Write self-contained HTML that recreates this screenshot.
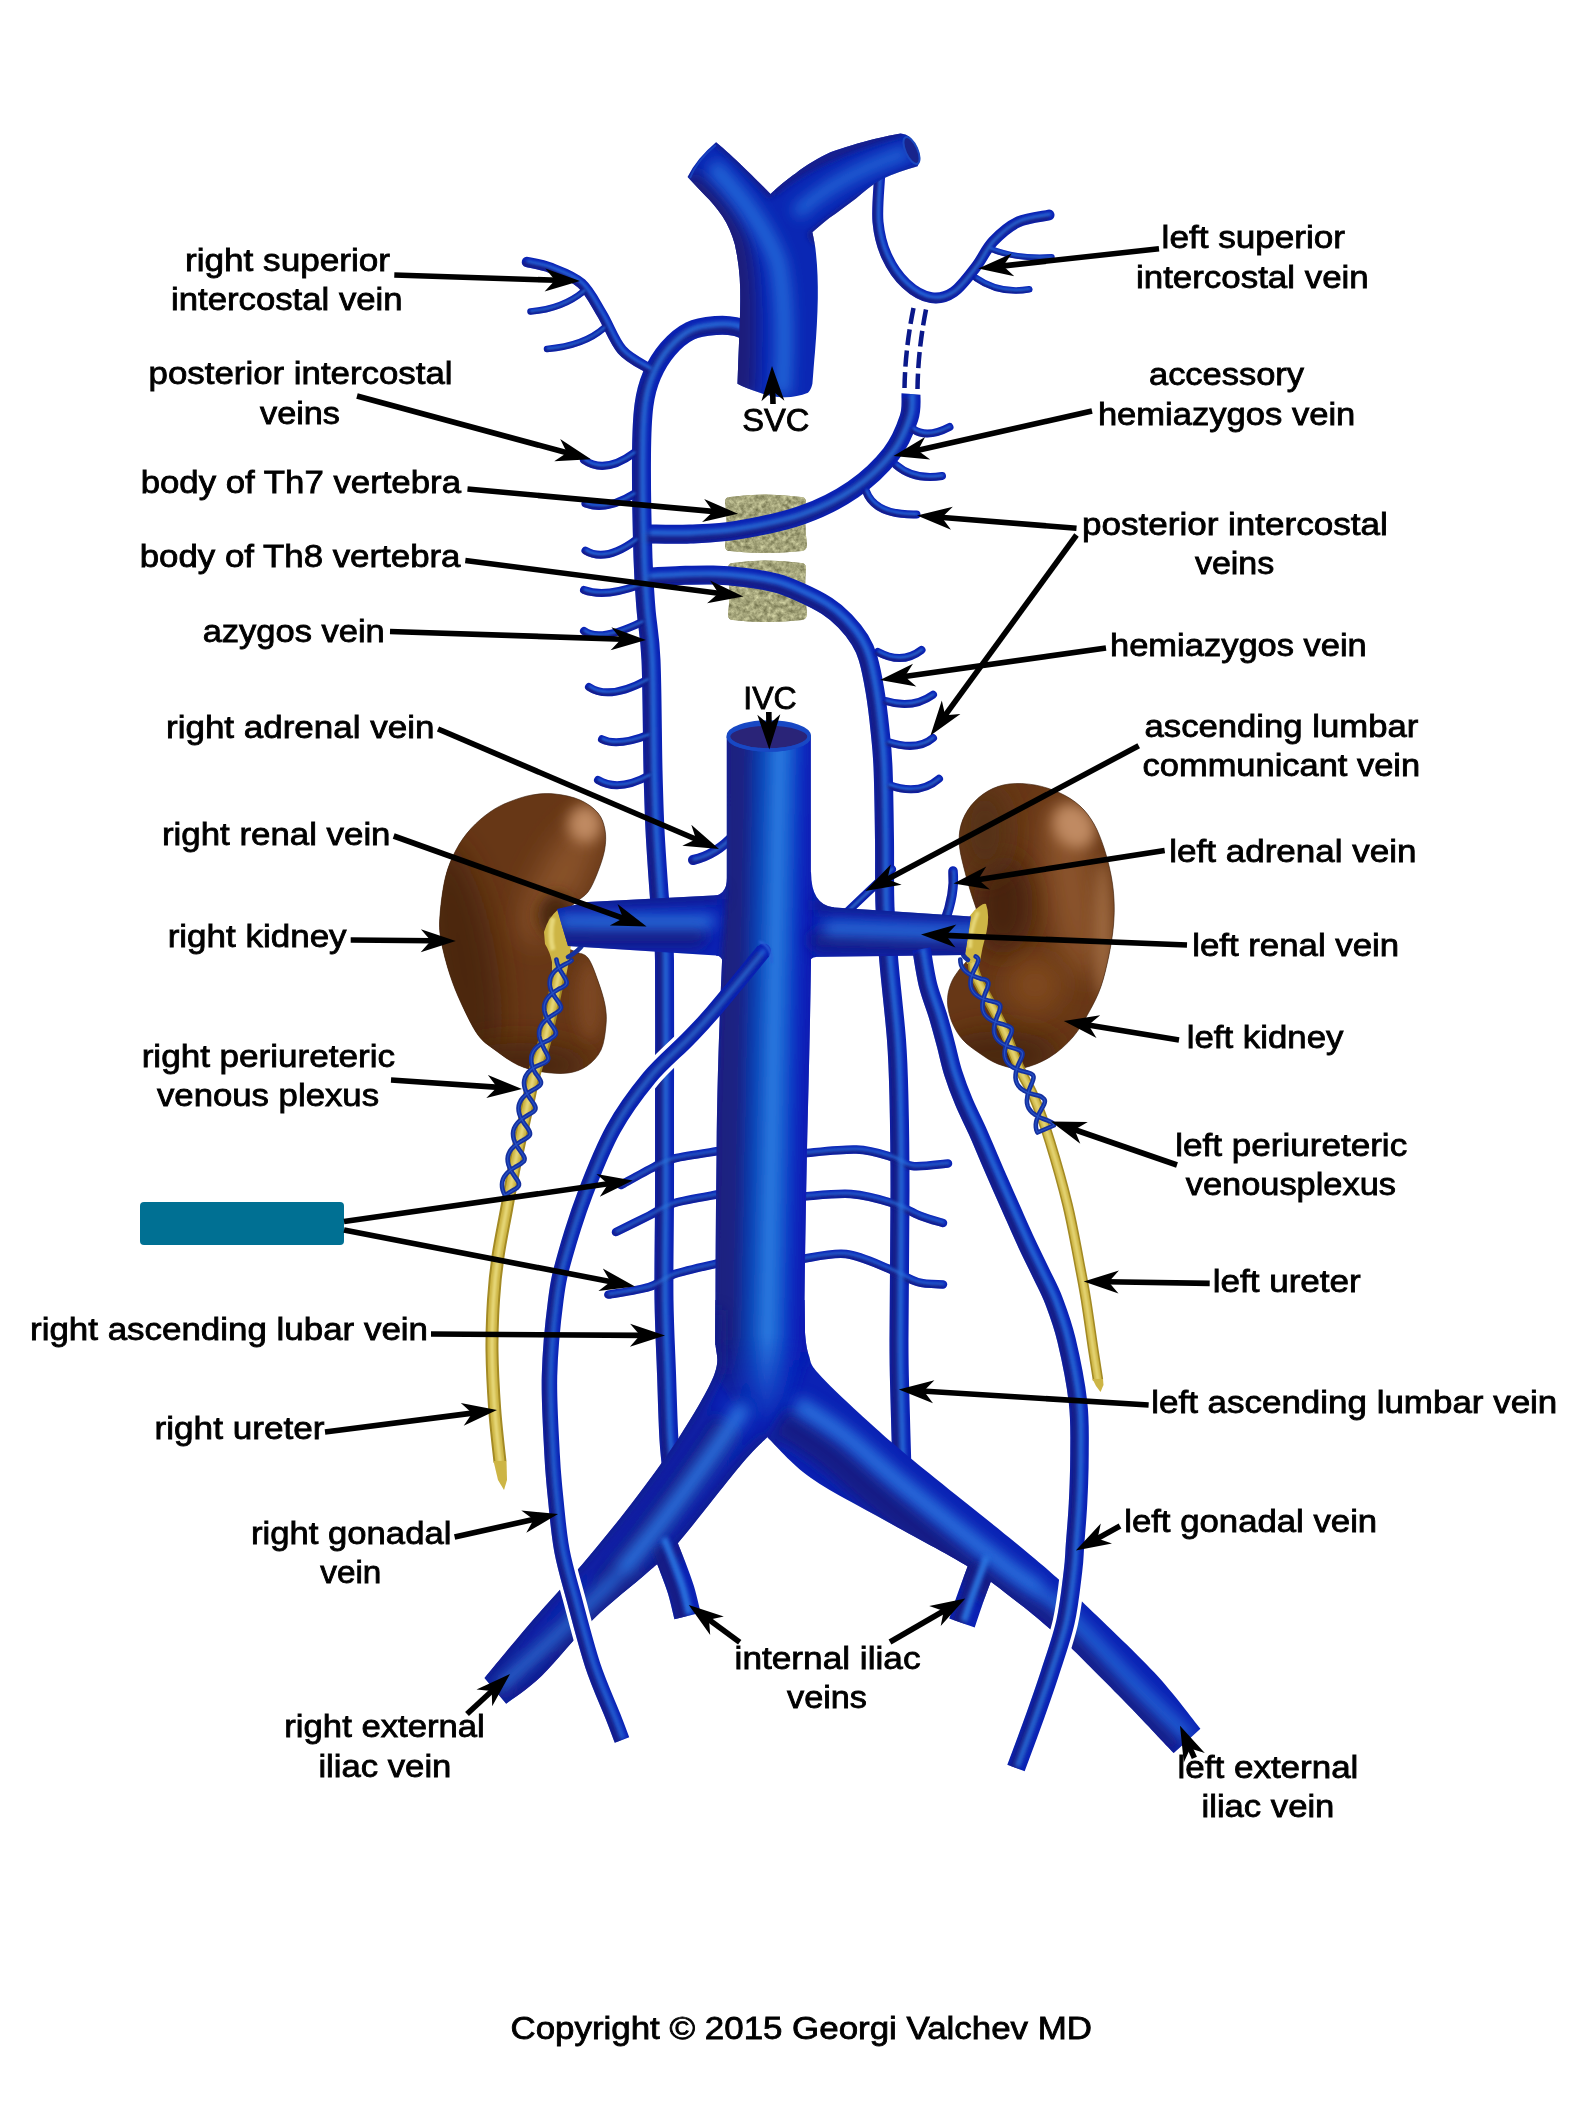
<!DOCTYPE html>
<html><head><meta charset="utf-8"><title>Azygos and caval venous system</title>
<style>html,body{margin:0;padding:0;background:#fff}svg{display:block}</style></head>
<body><svg width="1571" height="2106" viewBox="0 0 1571 2106">
<rect width="1571" height="2106" fill="#fff"/>
<defs>
<filter id="b1" filterUnits="userSpaceOnUse" x="0" y="0" width="1571" height="2106"><feGaussianBlur stdDeviation="1"/></filter>
<filter id="b15" filterUnits="userSpaceOnUse" x="0" y="0" width="1571" height="2106"><feGaussianBlur stdDeviation="1.4"/></filter>
<filter id="b2" filterUnits="userSpaceOnUse" x="0" y="0" width="1571" height="2106"><feGaussianBlur stdDeviation="2"/></filter>
<filter id="b3" filterUnits="userSpaceOnUse" x="0" y="0" width="1571" height="2106"><feGaussianBlur stdDeviation="3"/></filter>
<filter id="b6" filterUnits="userSpaceOnUse" x="0" y="0" width="1571" height="2106"><feGaussianBlur stdDeviation="7"/></filter>
<filter id="b10" filterUnits="userSpaceOnUse" x="0" y="0" width="1571" height="2106"><feGaussianBlur stdDeviation="9"/></filter>
<filter id="b12" filterUnits="userSpaceOnUse" x="0" y="0" width="1571" height="2106"><feGaussianBlur stdDeviation="14"/></filter>
<filter id="tex" filterUnits="userSpaceOnUse" x="700" y="480" width="130" height="150" color-interpolation-filters="sRGB"><feTurbulence type="fractalNoise" baseFrequency="0.22" numOctaves="3" seed="7" result="n"/><feColorMatrix in="n" type="matrix" values="0.55 0 0 0 0.37  0.55 0 0 0 0.37  0.5 0 0 0 0.23  0 0 0 0 1"/><feComposite in2="SourceGraphic" operator="in"/></filter>
 <linearGradient id="gfade" gradientUnits="userSpaceOnUse" x1="0" y1="1335" x2="0" y2="1425"><stop offset="0" stop-color="#fff"/><stop offset="1" stop-color="#000"/></linearGradient>
<mask id="mfade" maskUnits="userSpaceOnUse" x="0" y="0" width="1571" height="2106"><rect x="600" y="600" width="400" height="900" fill="url(#gfade)"/></mask>
<linearGradient id="givc" gradientUnits="userSpaceOnUse" x1="741.9" y1="0" x2="830.9" y2="0" gradientTransform="matrix(1,0,-0.0205,1,0,0)">
<stop offset="0" stop-color="#1b1f7e"/><stop offset="0.2" stop-color="#1a2284"/><stop offset="0.36" stop-color="#0c3cae"/><stop offset="0.48" stop-color="#155cca"/><stop offset="0.59" stop-color="#2c7ae0"/><stop offset="0.7" stop-color="#1a62d2"/><stop offset="0.85" stop-color="#0a2ec0"/><stop offset="1" stop-color="#0818b2"/>
</linearGradient>
</defs>
<path d="M730,497 Q765,492 801,497 Q806,497 806,502 Q804,523 807,545 Q807,550 802,551 Q765,555 730,551 Q725,551 725,546 Q728,523 725,502 Q725,497 730,497Z" fill="#a8a882"/><path d="M730,497 Q765,492 801,497 Q806,497 806,502 Q804,523 807,545 Q807,550 802,551 Q765,555 730,551 Q725,551 725,546 Q728,523 725,502 Q725,497 730,497Z" fill="#000" filter="url(#tex)"/>
<path d="M733,563 Q767,558 801,563 Q806,563 806,568 Q804,591 807,614 Q807,619 802,620 Q767,624 733,620 Q728,620 728,615 Q731,591 728,568 Q728,563 733,563Z" fill="#a8a882"/><path d="M733,563 Q767,558 801,563 Q806,563 806,568 Q804,591 807,614 Q807,619 802,620 Q767,624 733,620 Q728,620 728,615 Q731,591 728,568 Q728,563 733,563Z" fill="#000" filter="url(#tex)"/>
<clipPath id="crk"><path d="M555.0,794.0C563.0,794.8 572.8,796.8 580.0,800.0C587.2,803.2 593.8,808.0 598.0,813.0C602.2,818.0 603.9,823.8 605.0,830.0C606.1,836.2 605.9,842.7 604.6,850.0C603.3,857.3 599.8,867.0 597.0,874.0C594.2,881.0 591.5,887.3 588.0,892.0C584.5,896.7 579.7,898.7 576.0,902.0C572.3,905.3 568.5,908.2 566.0,912.0C563.5,915.8 561.8,920.7 561.0,925.0C560.2,929.3 560.2,934.3 561.0,938.0C561.8,941.7 563.5,944.7 566.0,947.0C568.5,949.3 572.3,950.2 576.0,952.0C579.7,953.8 584.3,953.2 588.0,958.0C591.7,962.8 595.2,973.2 598.0,981.0C600.8,988.8 603.7,997.7 605.0,1005.0C606.3,1012.3 606.7,1017.5 606.0,1025.0C605.3,1032.5 604.2,1043.2 601.0,1050.0C597.8,1056.8 592.5,1062.2 587.0,1066.0C581.5,1069.8 575.3,1072.0 568.0,1073.0C560.7,1074.0 551.3,1073.3 543.0,1072.0C534.7,1070.7 526.0,1068.7 518.0,1065.0C510.0,1061.3 501.7,1055.0 495.0,1050.0C488.3,1045.0 483.5,1042.5 478.0,1035.0C472.5,1027.5 466.7,1015.0 462.0,1005.0C457.3,995.0 453.5,985.8 450.0,975.0C446.5,964.2 442.7,950.0 441.0,940.0C439.3,930.0 439.2,925.5 440.0,915.0C440.8,904.5 442.8,887.8 445.5,877.0C448.2,866.2 451.8,858.1 456.0,850.0C460.2,841.9 465.3,834.9 471.0,828.6C476.7,822.3 483.7,816.4 490.0,812.0C496.3,807.6 502.0,804.8 509.0,802.0C516.0,799.2 524.3,796.3 532.0,795.0C539.7,793.7 547.0,793.2 555.0,794.0Z"/></clipPath><clipPath id="clk"><path d="M1009.0,784.0C1016.8,783.0 1026.5,783.5 1035.0,785.0C1043.5,786.5 1052.5,789.5 1060.0,793.0C1067.5,796.5 1074.3,800.8 1080.0,806.0C1085.7,811.2 1090.0,817.0 1094.0,824.0C1098.0,831.0 1101.2,839.5 1104.0,848.0C1106.8,856.5 1109.3,866.3 1111.0,875.0C1112.7,883.7 1113.6,891.7 1114.0,900.0C1114.4,908.3 1114.3,915.8 1113.5,925.0C1112.7,934.2 1111.1,944.8 1109.0,955.0C1106.9,965.2 1104.3,976.9 1101.0,986.4C1097.7,995.9 1093.7,1003.6 1089.0,1012.0C1084.3,1020.4 1079.5,1029.5 1073.0,1037.0C1066.5,1044.5 1058.5,1051.8 1050.0,1057.0C1041.5,1062.2 1030.7,1066.8 1022.0,1068.0C1013.3,1069.2 1005.2,1066.6 998.0,1064.0C990.8,1061.4 984.4,1056.6 978.6,1052.6C972.8,1048.6 967.3,1044.7 963.0,1040.0C958.7,1035.3 955.5,1029.9 953.0,1024.6C950.5,1019.3 948.8,1013.1 948.0,1008.0C947.2,1002.9 947.3,998.5 948.0,994.0C948.7,989.5 950.2,985.0 952.0,981.0C953.8,977.0 956.7,973.2 959.0,970.0C961.3,966.8 963.8,964.7 966.0,962.0C968.2,959.3 970.2,957.0 972.0,954.0C973.8,951.0 975.8,948.0 977.0,944.0C978.2,940.0 979.0,935.3 979.0,930.0C979.0,924.7 978.3,918.2 977.0,912.0C975.7,905.8 973.0,899.7 971.0,893.0C969.0,886.3 966.9,879.8 965.0,872.0C963.1,864.2 960.2,854.2 959.5,846.4C958.8,838.6 959.1,831.8 961.0,825.0C962.9,818.2 966.5,811.3 971.0,805.6C975.5,799.9 981.7,794.6 988.0,791.0C994.3,787.4 1001.2,785.0 1009.0,784.0Z"/></clipPath>
<path d="M555.0,794.0C563.0,794.8 572.8,796.8 580.0,800.0C587.2,803.2 593.8,808.0 598.0,813.0C602.2,818.0 603.9,823.8 605.0,830.0C606.1,836.2 605.9,842.7 604.6,850.0C603.3,857.3 599.8,867.0 597.0,874.0C594.2,881.0 591.5,887.3 588.0,892.0C584.5,896.7 579.7,898.7 576.0,902.0C572.3,905.3 568.5,908.2 566.0,912.0C563.5,915.8 561.8,920.7 561.0,925.0C560.2,929.3 560.2,934.3 561.0,938.0C561.8,941.7 563.5,944.7 566.0,947.0C568.5,949.3 572.3,950.2 576.0,952.0C579.7,953.8 584.3,953.2 588.0,958.0C591.7,962.8 595.2,973.2 598.0,981.0C600.8,988.8 603.7,997.7 605.0,1005.0C606.3,1012.3 606.7,1017.5 606.0,1025.0C605.3,1032.5 604.2,1043.2 601.0,1050.0C597.8,1056.8 592.5,1062.2 587.0,1066.0C581.5,1069.8 575.3,1072.0 568.0,1073.0C560.7,1074.0 551.3,1073.3 543.0,1072.0C534.7,1070.7 526.0,1068.7 518.0,1065.0C510.0,1061.3 501.7,1055.0 495.0,1050.0C488.3,1045.0 483.5,1042.5 478.0,1035.0C472.5,1027.5 466.7,1015.0 462.0,1005.0C457.3,995.0 453.5,985.8 450.0,975.0C446.5,964.2 442.7,950.0 441.0,940.0C439.3,930.0 439.2,925.5 440.0,915.0C440.8,904.5 442.8,887.8 445.5,877.0C448.2,866.2 451.8,858.1 456.0,850.0C460.2,841.9 465.3,834.9 471.0,828.6C476.7,822.3 483.7,816.4 490.0,812.0C496.3,807.6 502.0,804.8 509.0,802.0C516.0,799.2 524.3,796.3 532.0,795.0C539.7,793.7 547.0,793.2 555.0,794.0Z" fill="#673716"/>
<g clip-path="url(#crk)"><ellipse cx="560" cy="880" rx="22" ry="70" fill="#8a5329" filter="url(#b12)" transform="rotate(28 560 880)"/><ellipse cx="585" cy="824" rx="17" ry="19" fill="#c08a62" filter="url(#b6)"/><ellipse cx="462" cy="960" rx="34" ry="120" fill="#4c2810" filter="url(#b12)" transform="rotate(-10 462 960)"/><ellipse cx="520" cy="1065" rx="70" ry="22" fill="#4a260f" filter="url(#b12)"/><ellipse cx="556" cy="915" rx="18" ry="22" fill="#4a260f" filter="url(#b6)"/><ellipse cx="590" cy="1000" rx="14" ry="40" fill="#7c4622" filter="url(#b6)"/></g>
<path d="M555.0,794.0C563.0,794.8 572.8,796.8 580.0,800.0C587.2,803.2 593.8,808.0 598.0,813.0C602.2,818.0 603.9,823.8 605.0,830.0C606.1,836.2 605.9,842.7 604.6,850.0C603.3,857.3 599.8,867.0 597.0,874.0C594.2,881.0 591.5,887.3 588.0,892.0C584.5,896.7 579.7,898.7 576.0,902.0C572.3,905.3 568.5,908.2 566.0,912.0C563.5,915.8 561.8,920.7 561.0,925.0C560.2,929.3 560.2,934.3 561.0,938.0C561.8,941.7 563.5,944.7 566.0,947.0C568.5,949.3 572.3,950.2 576.0,952.0C579.7,953.8 584.3,953.2 588.0,958.0C591.7,962.8 595.2,973.2 598.0,981.0C600.8,988.8 603.7,997.7 605.0,1005.0C606.3,1012.3 606.7,1017.5 606.0,1025.0C605.3,1032.5 604.2,1043.2 601.0,1050.0C597.8,1056.8 592.5,1062.2 587.0,1066.0C581.5,1069.8 575.3,1072.0 568.0,1073.0C560.7,1074.0 551.3,1073.3 543.0,1072.0C534.7,1070.7 526.0,1068.7 518.0,1065.0C510.0,1061.3 501.7,1055.0 495.0,1050.0C488.3,1045.0 483.5,1042.5 478.0,1035.0C472.5,1027.5 466.7,1015.0 462.0,1005.0C457.3,995.0 453.5,985.8 450.0,975.0C446.5,964.2 442.7,950.0 441.0,940.0C439.3,930.0 439.2,925.5 440.0,915.0C440.8,904.5 442.8,887.8 445.5,877.0C448.2,866.2 451.8,858.1 456.0,850.0C460.2,841.9 465.3,834.9 471.0,828.6C476.7,822.3 483.7,816.4 490.0,812.0C496.3,807.6 502.0,804.8 509.0,802.0C516.0,799.2 524.3,796.3 532.0,795.0C539.7,793.7 547.0,793.2 555.0,794.0Z" fill="none" stroke="#3e200c" stroke-width="1" opacity="0.6"/>
<path d="M1009.0,784.0C1016.8,783.0 1026.5,783.5 1035.0,785.0C1043.5,786.5 1052.5,789.5 1060.0,793.0C1067.5,796.5 1074.3,800.8 1080.0,806.0C1085.7,811.2 1090.0,817.0 1094.0,824.0C1098.0,831.0 1101.2,839.5 1104.0,848.0C1106.8,856.5 1109.3,866.3 1111.0,875.0C1112.7,883.7 1113.6,891.7 1114.0,900.0C1114.4,908.3 1114.3,915.8 1113.5,925.0C1112.7,934.2 1111.1,944.8 1109.0,955.0C1106.9,965.2 1104.3,976.9 1101.0,986.4C1097.7,995.9 1093.7,1003.6 1089.0,1012.0C1084.3,1020.4 1079.5,1029.5 1073.0,1037.0C1066.5,1044.5 1058.5,1051.8 1050.0,1057.0C1041.5,1062.2 1030.7,1066.8 1022.0,1068.0C1013.3,1069.2 1005.2,1066.6 998.0,1064.0C990.8,1061.4 984.4,1056.6 978.6,1052.6C972.8,1048.6 967.3,1044.7 963.0,1040.0C958.7,1035.3 955.5,1029.9 953.0,1024.6C950.5,1019.3 948.8,1013.1 948.0,1008.0C947.2,1002.9 947.3,998.5 948.0,994.0C948.7,989.5 950.2,985.0 952.0,981.0C953.8,977.0 956.7,973.2 959.0,970.0C961.3,966.8 963.8,964.7 966.0,962.0C968.2,959.3 970.2,957.0 972.0,954.0C973.8,951.0 975.8,948.0 977.0,944.0C978.2,940.0 979.0,935.3 979.0,930.0C979.0,924.7 978.3,918.2 977.0,912.0C975.7,905.8 973.0,899.7 971.0,893.0C969.0,886.3 966.9,879.8 965.0,872.0C963.1,864.2 960.2,854.2 959.5,846.4C958.8,838.6 959.1,831.8 961.0,825.0C962.9,818.2 966.5,811.3 971.0,805.6C975.5,799.9 981.7,794.6 988.0,791.0C994.3,787.4 1001.2,785.0 1009.0,784.0Z" fill="#673716"/>
<g clip-path="url(#clk)"><ellipse cx="1072" cy="890" rx="26" ry="90" fill="#8a5329" filter="url(#b12)" transform="rotate(-10 1072 890)"/><ellipse cx="1074" cy="826" rx="20" ry="24" fill="#c08a62" filter="url(#b6)" transform="rotate(-35 1074 826)"/><ellipse cx="1103" cy="930" rx="8" ry="70" fill="#a06c42" filter="url(#b6)"/><ellipse cx="1003" cy="905" rx="30" ry="50" fill="#47240e" filter="url(#b12)"/><ellipse cx="985" cy="830" rx="24" ry="45" fill="#553013" filter="url(#b12)"/><ellipse cx="1000" cy="1055" rx="60" ry="24" fill="#4a260f" filter="url(#b12)"/><ellipse cx="1035" cy="985" rx="28" ry="28" fill="#80481f" filter="url(#b12)"/></g>
<path d="M1009.0,784.0C1016.8,783.0 1026.5,783.5 1035.0,785.0C1043.5,786.5 1052.5,789.5 1060.0,793.0C1067.5,796.5 1074.3,800.8 1080.0,806.0C1085.7,811.2 1090.0,817.0 1094.0,824.0C1098.0,831.0 1101.2,839.5 1104.0,848.0C1106.8,856.5 1109.3,866.3 1111.0,875.0C1112.7,883.7 1113.6,891.7 1114.0,900.0C1114.4,908.3 1114.3,915.8 1113.5,925.0C1112.7,934.2 1111.1,944.8 1109.0,955.0C1106.9,965.2 1104.3,976.9 1101.0,986.4C1097.7,995.9 1093.7,1003.6 1089.0,1012.0C1084.3,1020.4 1079.5,1029.5 1073.0,1037.0C1066.5,1044.5 1058.5,1051.8 1050.0,1057.0C1041.5,1062.2 1030.7,1066.8 1022.0,1068.0C1013.3,1069.2 1005.2,1066.6 998.0,1064.0C990.8,1061.4 984.4,1056.6 978.6,1052.6C972.8,1048.6 967.3,1044.7 963.0,1040.0C958.7,1035.3 955.5,1029.9 953.0,1024.6C950.5,1019.3 948.8,1013.1 948.0,1008.0C947.2,1002.9 947.3,998.5 948.0,994.0C948.7,989.5 950.2,985.0 952.0,981.0C953.8,977.0 956.7,973.2 959.0,970.0C961.3,966.8 963.8,964.7 966.0,962.0C968.2,959.3 970.2,957.0 972.0,954.0C973.8,951.0 975.8,948.0 977.0,944.0C978.2,940.0 979.0,935.3 979.0,930.0C979.0,924.7 978.3,918.2 977.0,912.0C975.7,905.8 973.0,899.7 971.0,893.0C969.0,886.3 966.9,879.8 965.0,872.0C963.1,864.2 960.2,854.2 959.5,846.4C958.8,838.6 959.1,831.8 961.0,825.0C962.9,818.2 966.5,811.3 971.0,805.6C975.5,799.9 981.7,794.6 988.0,791.0C994.3,787.4 1001.2,785.0 1009.0,784.0Z" fill="none" stroke="#3e200c" stroke-width="1" opacity="0.6"/>
<defs><g id="gL1" stroke-linejoin="round"><path d="M634.0,453.0Q605.0,474.5 584.0,460.0" fill="none" stroke="currentColor" stroke-width="8.0" stroke-linecap="round"/><path d="M634.0,494.0Q606.2,511.2 585.5,503.5" fill="none" stroke="currentColor" stroke-width="8.0" stroke-linecap="round"/><path d="M636.0,540.0Q605.2,562.7 585.5,550.6" fill="none" stroke="currentColor" stroke-width="8.0" stroke-linecap="round"/><path d="M639.0,585.0Q604.5,597.7 584.0,590.0" fill="none" stroke="currentColor" stroke-width="8.0" stroke-linecap="round"/><path d="M642.0,622.0Q599.0,642.7 584.0,631.0" fill="none" stroke="currentColor" stroke-width="8.0" stroke-linecap="round"/><path d="M647.0,680.0Q609.0,700.5 589.0,687.0" fill="none" stroke="currentColor" stroke-width="8.0" stroke-linecap="round"/><path d="M648.0,735.0Q617.0,746.9 602.0,739.3" fill="none" stroke="currentColor" stroke-width="8.0" stroke-linecap="round"/><path d="M649.0,775.5Q618.5,792.2 598.0,780.0" fill="none" stroke="currentColor" stroke-width="8.0" stroke-linecap="round"/><path d="M913.0,429.0Q926.8,439.0 949.5,427.0" fill="none" stroke="currentColor" stroke-width="8.0" stroke-linecap="round"/><path d="M896.0,465.0Q914.0,480.5 942.0,476.0" fill="none" stroke="currentColor" stroke-width="8.0" stroke-linecap="round"/><path d="M866.0,491.0Q874.8,515.3 916.5,514.4" fill="none" stroke="currentColor" stroke-width="8.0" stroke-linecap="round"/><path d="M878.0,652.0Q902.2,665.0 921.5,650.0" fill="none" stroke="currentColor" stroke-width="8.0" stroke-linecap="round"/><path d="M886.0,701.0Q912.5,709.4 933.0,694.7" fill="none" stroke="currentColor" stroke-width="8.0" stroke-linecap="round"/><path d="M888.0,742.0Q917.5,751.4 933.0,738.0" fill="none" stroke="currentColor" stroke-width="8.0" stroke-linecap="round"/><path d="M889.0,785.0Q919.0,796.1 939.0,778.8" fill="none" stroke="currentColor" stroke-width="8.0" stroke-linecap="round"/><path d="M720.0,1150.8C712.4,1152.1 685.6,1155.7 674.6,1158.4C663.6,1161.1 662.9,1162.6 654.0,1167.0C645.1,1171.4 626.5,1182.0 621.0,1185.0" fill="none" stroke="currentColor" stroke-width="8.5" stroke-linecap="round"/><path d="M720.0,1194.0C712.4,1195.5 686.4,1199.4 674.6,1203.0C662.8,1206.6 658.8,1210.9 649.0,1215.7C639.2,1220.5 621.5,1229.3 616.0,1232.0" fill="none" stroke="currentColor" stroke-width="8.5" stroke-linecap="round"/><path d="M720.0,1262.8C712.4,1264.7 686.4,1270.0 674.6,1274.0C662.8,1278.0 660.0,1283.6 649.0,1287.0C638.0,1290.4 615.2,1293.3 608.4,1294.6" fill="none" stroke="currentColor" stroke-width="8.5" stroke-linecap="round"/><path d="M803.0,1153.3C811.9,1152.7 841.6,1148.9 856.4,1149.5C871.2,1150.1 882.7,1154.2 892.0,1157.0C901.3,1159.8 903.1,1164.9 912.4,1166.0C921.7,1167.1 942.1,1163.9 948.0,1163.5" fill="none" stroke="currentColor" stroke-width="8.5" stroke-linecap="round"/><path d="M803.0,1196.6C811.0,1196.2 836.2,1192.9 851.0,1194.0C865.8,1195.1 880.5,1199.4 892.0,1203.0C903.5,1206.6 911.5,1212.4 920.0,1215.7C928.5,1219.0 939.2,1221.8 943.0,1223.0" fill="none" stroke="currentColor" stroke-width="8.5" stroke-linecap="round"/><path d="M802.0,1259.0C809.3,1258.2 831.4,1252.3 846.0,1254.0C860.6,1255.7 877.6,1264.3 889.5,1269.0C901.4,1273.7 908.6,1279.4 917.5,1282.0C926.4,1284.6 938.8,1284.0 943.0,1284.4" fill="none" stroke="currentColor" stroke-width="8.5" stroke-linecap="round"/><path d="M584.0,291.0Q562.8,308.8 530.5,311.5" fill="none" stroke="currentColor" stroke-width="6.5" stroke-linecap="round"/><path d="M604.0,328.0Q584.5,345.5 547.0,349.0" fill="none" stroke="currentColor" stroke-width="6.5" stroke-linecap="round"/><path d="M650.0,369.0C645.3,365.8 630.0,359.2 622.0,350.0C614.0,340.8 608.8,325.1 602.0,314.0C595.2,302.9 590.0,291.2 581.5,283.5C573.0,275.8 560.1,271.6 551.0,268.0C541.9,264.4 531.0,263.0 527.0,262.0" fill="none" stroke="currentColor" stroke-width="10.5" stroke-linecap="round"/><path d="M990.0,248.6Q1015.1,259.2 1051.7,257.0" fill="none" stroke="currentColor" stroke-width="6.0" stroke-linecap="round"/><path d="M976.0,278.0Q999.4,294.4 1029.3,289.3" fill="none" stroke="currentColor" stroke-width="6.5" stroke-linecap="round"/><path d="M879.5,178.0C879.2,185.3 876.8,209.1 878.0,222.0C879.2,234.9 881.8,245.3 886.5,255.6C891.2,265.9 898.5,276.7 906.0,283.7C913.5,290.7 923.3,296.3 931.3,297.7C939.2,299.1 946.2,297.1 953.7,292.0C961.2,286.9 969.5,275.3 976.0,266.9C982.5,258.5 986.0,249.1 993.0,241.6C1000.0,234.1 1008.7,226.4 1018.0,222.0C1027.3,217.6 1043.8,216.2 1049.0,215.0" fill="none" stroke="currentColor" stroke-width="11.0" stroke-linecap="round"/><path d="M752.0,333.0C749.2,331.9 741.0,327.8 735.0,326.5C729.0,325.2 723.5,324.8 716.0,325.5C708.5,326.2 698.0,327.1 690.0,331.0C682.0,334.9 674.3,341.7 668.0,349.0C661.7,356.3 656.0,365.7 652.0,375.0C648.0,384.3 645.8,391.5 644.0,405.0C642.2,418.5 641.7,430.5 641.5,456.0C641.3,481.5 642.2,532.5 643.0,558.0C643.8,583.5 644.7,592.0 646.0,609.0C647.3,626.0 649.8,633.2 651.0,660.0C652.2,686.8 652.3,741.7 653.0,770.0C653.7,798.3 654.0,809.7 655.0,830.0C656.0,850.3 657.8,875.3 659.0,892.0C660.2,908.7 661.1,918.5 662.0,930.0C662.9,941.5 664.1,932.7 664.5,961.0C664.9,989.3 664.5,1060.2 664.5,1100.0C664.5,1139.8 664.6,1166.7 664.5,1200.0C664.4,1233.3 663.6,1270.7 664.0,1300.0C664.4,1329.3 665.8,1352.7 666.6,1376.0C667.4,1399.3 667.9,1422.7 669.0,1440.0C670.1,1457.3 672.3,1473.3 673.0,1480.0" fill="none" stroke="currentColor" stroke-width="19.0" stroke-linecap="round"/><path d="M911.0,394.0C910.7,398.0 912.3,408.0 909.0,418.0C905.7,428.0 900.3,442.1 891.0,454.0C881.7,465.9 867.8,479.3 853.0,489.5C838.2,499.7 821.2,508.2 802.0,515.0C782.8,521.8 756.7,526.8 738.0,530.0C719.3,533.2 705.0,533.3 690.0,534.0C675.0,534.7 655.0,534.0 648.0,534.0" fill="none" stroke="currentColor" stroke-width="19.0" stroke-linecap="butt"/><path d="M650.0,577.0C655.0,576.8 669.5,575.8 680.0,575.5C690.5,575.2 702.2,574.7 713.0,575.0C723.8,575.3 734.5,576.2 745.0,577.5C755.5,578.8 766.8,580.6 776.0,583.0C785.2,585.4 791.5,588.2 800.0,592.0C808.5,595.8 819.5,601.2 827.0,606.0C834.5,610.8 839.5,615.3 845.0,621.0C850.5,626.7 856.2,633.8 860.0,640.0C863.8,646.2 865.5,649.5 868.0,658.0C870.5,666.5 873.0,679.0 875.0,691.0C877.0,703.0 878.7,717.3 880.0,730.0C881.3,742.7 882.2,748.7 883.0,767.0C883.8,785.3 884.2,816.7 884.5,840.0C884.8,863.3 884.2,886.5 885.0,907.0C885.8,927.5 887.1,940.8 889.0,963.0C890.9,985.2 894.8,1017.2 896.5,1040.0C898.2,1062.8 898.4,1075.0 899.0,1100.0C899.6,1125.0 900.0,1150.0 900.0,1190.0C900.0,1230.0 899.0,1305.0 899.0,1340.0C899.0,1375.0 899.5,1378.3 900.0,1400.0C900.5,1421.7 901.7,1458.3 902.0,1470.0" fill="none" stroke="currentColor" stroke-width="19.0" stroke-linecap="round"/><path d="M846.0,913.0L892.0,869.3" fill="none" stroke="currentColor" stroke-width="8.4" stroke-linecap="round"/><path d="M953.0,871.0Q955.2,893.5 944.5,922.0" fill="none" stroke="currentColor" stroke-width="9.5" stroke-linecap="round"/><path d="M735.0,834.0Q716.0,855.0 693.0,860.0" fill="none" stroke="currentColor" stroke-width="10.0" stroke-linecap="round"/></g><mask id="mL1" maskUnits="userSpaceOnUse" x="0" y="0" width="1571" height="2106"><use href="#gL1" color="#fff"/></mask></defs>
<use href="#gL1" color="#0b22b4"/>
<g mask="url(#mL1)">
<g fill="none" stroke-linejoin="round" filter="url(#b2)"><path d="M752.0,333.0C749.2,331.9 741.0,327.8 735.0,326.5C729.0,325.2 723.5,324.8 716.0,325.5C708.5,326.2 698.0,327.1 690.0,331.0C682.0,334.9 674.3,341.7 668.0,349.0C661.7,356.3 656.0,365.7 652.0,375.0C648.0,384.3 645.8,391.5 644.0,405.0C642.2,418.5 641.7,430.5 641.5,456.0C641.3,481.5 642.2,532.5 643.0,558.0C643.8,583.5 644.7,592.0 646.0,609.0C647.3,626.0 649.8,633.2 651.0,660.0C652.2,686.8 652.3,741.7 653.0,770.0C653.7,798.3 654.0,809.7 655.0,830.0C656.0,850.3 657.8,875.3 659.0,892.0C660.2,908.7 661.1,918.5 662.0,930.0C662.9,941.5 664.1,932.7 664.5,961.0C664.9,989.3 664.5,1060.2 664.5,1100.0C664.5,1139.8 664.6,1166.7 664.5,1200.0C664.4,1233.3 663.6,1270.7 664.0,1300.0C664.4,1329.3 665.8,1352.7 666.6,1376.0C667.4,1399.3 667.9,1422.7 669.0,1440.0C670.1,1457.3 672.3,1473.3 673.0,1480.0" stroke="#131f86" stroke-width="9.5" stroke-linecap="round" transform="translate(-3.8,3.8)"/><path d="M911.0,394.0C910.7,398.0 912.3,408.0 909.0,418.0C905.7,428.0 900.3,442.1 891.0,454.0C881.7,465.9 867.8,479.3 853.0,489.5C838.2,499.7 821.2,508.2 802.0,515.0C782.8,521.8 756.7,526.8 738.0,530.0C719.3,533.2 705.0,533.3 690.0,534.0C675.0,534.7 655.0,534.0 648.0,534.0" stroke="#131f86" stroke-width="9.5" stroke-linecap="butt" transform="translate(-3.8,3.8)"/><path d="M650.0,577.0C655.0,576.8 669.5,575.8 680.0,575.5C690.5,575.2 702.2,574.7 713.0,575.0C723.8,575.3 734.5,576.2 745.0,577.5C755.5,578.8 766.8,580.6 776.0,583.0C785.2,585.4 791.5,588.2 800.0,592.0C808.5,595.8 819.5,601.2 827.0,606.0C834.5,610.8 839.5,615.3 845.0,621.0C850.5,626.7 856.2,633.8 860.0,640.0C863.8,646.2 865.5,649.5 868.0,658.0C870.5,666.5 873.0,679.0 875.0,691.0C877.0,703.0 878.7,717.3 880.0,730.0C881.3,742.7 882.2,748.7 883.0,767.0C883.8,785.3 884.2,816.7 884.5,840.0C884.8,863.3 884.2,886.5 885.0,907.0C885.8,927.5 887.1,940.8 889.0,963.0C890.9,985.2 894.8,1017.2 896.5,1040.0C898.2,1062.8 898.4,1075.0 899.0,1100.0C899.6,1125.0 900.0,1150.0 900.0,1190.0C900.0,1230.0 899.0,1305.0 899.0,1340.0C899.0,1375.0 899.5,1378.3 900.0,1400.0C900.5,1421.7 901.7,1458.3 902.0,1470.0" stroke="#131f86" stroke-width="9.5" stroke-linecap="round" transform="translate(-3.8,3.8)"/></g>
<g fill="none" stroke-linejoin="round" filter="url(#b15)"><path d="M720.0,1150.8C712.4,1152.1 685.6,1155.7 674.6,1158.4C663.6,1161.1 662.9,1162.6 654.0,1167.0C645.1,1171.4 626.5,1182.0 621.0,1185.0" stroke="#131f86" stroke-width="4.2" stroke-linecap="round" transform="translate(-1.7,1.7)"/><path d="M720.0,1194.0C712.4,1195.5 686.4,1199.4 674.6,1203.0C662.8,1206.6 658.8,1210.9 649.0,1215.7C639.2,1220.5 621.5,1229.3 616.0,1232.0" stroke="#131f86" stroke-width="4.2" stroke-linecap="round" transform="translate(-1.7,1.7)"/><path d="M720.0,1262.8C712.4,1264.7 686.4,1270.0 674.6,1274.0C662.8,1278.0 660.0,1283.6 649.0,1287.0C638.0,1290.4 615.2,1293.3 608.4,1294.6" stroke="#131f86" stroke-width="4.2" stroke-linecap="round" transform="translate(-1.7,1.7)"/><path d="M803.0,1153.3C811.9,1152.7 841.6,1148.9 856.4,1149.5C871.2,1150.1 882.7,1154.2 892.0,1157.0C901.3,1159.8 903.1,1164.9 912.4,1166.0C921.7,1167.1 942.1,1163.9 948.0,1163.5" stroke="#131f86" stroke-width="4.2" stroke-linecap="round" transform="translate(-1.7,1.7)"/><path d="M803.0,1196.6C811.0,1196.2 836.2,1192.9 851.0,1194.0C865.8,1195.1 880.5,1199.4 892.0,1203.0C903.5,1206.6 911.5,1212.4 920.0,1215.7C928.5,1219.0 939.2,1221.8 943.0,1223.0" stroke="#131f86" stroke-width="4.2" stroke-linecap="round" transform="translate(-1.7,1.7)"/><path d="M802.0,1259.0C809.3,1258.2 831.4,1252.3 846.0,1254.0C860.6,1255.7 877.6,1264.3 889.5,1269.0C901.4,1273.7 908.6,1279.4 917.5,1282.0C926.4,1284.6 938.8,1284.0 943.0,1284.4" stroke="#131f86" stroke-width="4.2" stroke-linecap="round" transform="translate(-1.7,1.7)"/><path d="M650.0,369.0C645.3,365.8 630.0,359.2 622.0,350.0C614.0,340.8 608.8,325.1 602.0,314.0C595.2,302.9 590.0,291.2 581.5,283.5C573.0,275.8 560.1,271.6 551.0,268.0C541.9,264.4 531.0,263.0 527.0,262.0" stroke="#131f86" stroke-width="5.2" stroke-linecap="round" transform="translate(-2.1,2.1)"/><path d="M879.5,178.0C879.2,185.3 876.8,209.1 878.0,222.0C879.2,234.9 881.8,245.3 886.5,255.6C891.2,265.9 898.5,276.7 906.0,283.7C913.5,290.7 923.3,296.3 931.3,297.7C939.2,299.1 946.2,297.1 953.7,292.0C961.2,286.9 969.5,275.3 976.0,266.9C982.5,258.5 986.0,249.1 993.0,241.6C1000.0,234.1 1008.7,226.4 1018.0,222.0C1027.3,217.6 1043.8,216.2 1049.0,215.0" stroke="#131f86" stroke-width="5.5" stroke-linecap="round" transform="translate(-2.2,2.2)"/><path d="M953.0,871.0Q955.2,893.5 944.5,922.0" stroke="#131f86" stroke-width="4.8" stroke-linecap="round" transform="translate(-1.9,1.9)"/><path d="M735.0,834.0Q716.0,855.0 693.0,860.0" stroke="#131f86" stroke-width="5.0" stroke-linecap="round" transform="translate(-2.0,2.0)"/></g>
<g fill="none" stroke-linejoin="round" filter="url(#b1)"><path d="M634.0,453.0Q605.0,474.5 584.0,460.0" stroke="#131f86" stroke-width="4.0" stroke-linecap="round" transform="translate(-1.6,1.6)"/><path d="M634.0,494.0Q606.2,511.2 585.5,503.5" stroke="#131f86" stroke-width="4.0" stroke-linecap="round" transform="translate(-1.6,1.6)"/><path d="M636.0,540.0Q605.2,562.7 585.5,550.6" stroke="#131f86" stroke-width="4.0" stroke-linecap="round" transform="translate(-1.6,1.6)"/><path d="M639.0,585.0Q604.5,597.7 584.0,590.0" stroke="#131f86" stroke-width="4.0" stroke-linecap="round" transform="translate(-1.6,1.6)"/><path d="M642.0,622.0Q599.0,642.7 584.0,631.0" stroke="#131f86" stroke-width="4.0" stroke-linecap="round" transform="translate(-1.6,1.6)"/><path d="M647.0,680.0Q609.0,700.5 589.0,687.0" stroke="#131f86" stroke-width="4.0" stroke-linecap="round" transform="translate(-1.6,1.6)"/><path d="M648.0,735.0Q617.0,746.9 602.0,739.3" stroke="#131f86" stroke-width="4.0" stroke-linecap="round" transform="translate(-1.6,1.6)"/><path d="M649.0,775.5Q618.5,792.2 598.0,780.0" stroke="#131f86" stroke-width="4.0" stroke-linecap="round" transform="translate(-1.6,1.6)"/><path d="M913.0,429.0Q926.8,439.0 949.5,427.0" stroke="#131f86" stroke-width="4.0" stroke-linecap="round" transform="translate(-1.6,1.6)"/><path d="M896.0,465.0Q914.0,480.5 942.0,476.0" stroke="#131f86" stroke-width="4.0" stroke-linecap="round" transform="translate(-1.6,1.6)"/><path d="M866.0,491.0Q874.8,515.3 916.5,514.4" stroke="#131f86" stroke-width="4.0" stroke-linecap="round" transform="translate(-1.6,1.6)"/><path d="M878.0,652.0Q902.2,665.0 921.5,650.0" stroke="#131f86" stroke-width="4.0" stroke-linecap="round" transform="translate(-1.6,1.6)"/><path d="M886.0,701.0Q912.5,709.4 933.0,694.7" stroke="#131f86" stroke-width="4.0" stroke-linecap="round" transform="translate(-1.6,1.6)"/><path d="M888.0,742.0Q917.5,751.4 933.0,738.0" stroke="#131f86" stroke-width="4.0" stroke-linecap="round" transform="translate(-1.6,1.6)"/><path d="M889.0,785.0Q919.0,796.1 939.0,778.8" stroke="#131f86" stroke-width="4.0" stroke-linecap="round" transform="translate(-1.6,1.6)"/><path d="M584.0,291.0Q562.8,308.8 530.5,311.5" stroke="#131f86" stroke-width="3.2" stroke-linecap="round" transform="translate(-1.3,1.3)"/><path d="M604.0,328.0Q584.5,345.5 547.0,349.0" stroke="#131f86" stroke-width="3.2" stroke-linecap="round" transform="translate(-1.3,1.3)"/><path d="M990.0,248.6Q1015.1,259.2 1051.7,257.0" stroke="#131f86" stroke-width="3.0" stroke-linecap="round" transform="translate(-1.2,1.2)"/><path d="M976.0,278.0Q999.4,294.4 1029.3,289.3" stroke="#131f86" stroke-width="3.2" stroke-linecap="round" transform="translate(-1.3,1.3)"/><path d="M846.0,913.0L892.0,869.3" stroke="#131f86" stroke-width="4.2" stroke-linecap="round" transform="translate(-1.7,1.7)"/></g>
<g fill="none" stroke-linejoin="round" filter="url(#b2)"><path d="M752.0,333.0C749.2,331.9 741.0,327.8 735.0,326.5C729.0,325.2 723.5,324.8 716.0,325.5C708.5,326.2 698.0,327.1 690.0,331.0C682.0,334.9 674.3,341.7 668.0,349.0C661.7,356.3 656.0,365.7 652.0,375.0C648.0,384.3 645.8,391.5 644.0,405.0C642.2,418.5 641.7,430.5 641.5,456.0C641.3,481.5 642.2,532.5 643.0,558.0C643.8,583.5 644.7,592.0 646.0,609.0C647.3,626.0 649.8,633.2 651.0,660.0C652.2,686.8 652.3,741.7 653.0,770.0C653.7,798.3 654.0,809.7 655.0,830.0C656.0,850.3 657.8,875.3 659.0,892.0C660.2,908.7 661.1,918.5 662.0,930.0C662.9,941.5 664.1,932.7 664.5,961.0C664.9,989.3 664.5,1060.2 664.5,1100.0C664.5,1139.8 664.6,1166.7 664.5,1200.0C664.4,1233.3 663.6,1270.7 664.0,1300.0C664.4,1329.3 665.8,1352.7 666.6,1376.0C667.4,1399.3 667.9,1422.7 669.0,1440.0C670.1,1457.3 672.3,1473.3 673.0,1480.0" stroke="#2a72de" stroke-width="4.9" stroke-linecap="round" transform="translate(1.3,-1.3)"/><path d="M911.0,394.0C910.7,398.0 912.3,408.0 909.0,418.0C905.7,428.0 900.3,442.1 891.0,454.0C881.7,465.9 867.8,479.3 853.0,489.5C838.2,499.7 821.2,508.2 802.0,515.0C782.8,521.8 756.7,526.8 738.0,530.0C719.3,533.2 705.0,533.3 690.0,534.0C675.0,534.7 655.0,534.0 648.0,534.0" stroke="#2a72de" stroke-width="4.9" stroke-linecap="butt" transform="translate(1.3,-1.3)"/><path d="M650.0,577.0C655.0,576.8 669.5,575.8 680.0,575.5C690.5,575.2 702.2,574.7 713.0,575.0C723.8,575.3 734.5,576.2 745.0,577.5C755.5,578.8 766.8,580.6 776.0,583.0C785.2,585.4 791.5,588.2 800.0,592.0C808.5,595.8 819.5,601.2 827.0,606.0C834.5,610.8 839.5,615.3 845.0,621.0C850.5,626.7 856.2,633.8 860.0,640.0C863.8,646.2 865.5,649.5 868.0,658.0C870.5,666.5 873.0,679.0 875.0,691.0C877.0,703.0 878.7,717.3 880.0,730.0C881.3,742.7 882.2,748.7 883.0,767.0C883.8,785.3 884.2,816.7 884.5,840.0C884.8,863.3 884.2,886.5 885.0,907.0C885.8,927.5 887.1,940.8 889.0,963.0C890.9,985.2 894.8,1017.2 896.5,1040.0C898.2,1062.8 898.4,1075.0 899.0,1100.0C899.6,1125.0 900.0,1150.0 900.0,1190.0C900.0,1230.0 899.0,1305.0 899.0,1340.0C899.0,1375.0 899.5,1378.3 900.0,1400.0C900.5,1421.7 901.7,1458.3 902.0,1470.0" stroke="#2a72de" stroke-width="4.9" stroke-linecap="round" transform="translate(1.3,-1.3)"/></g>
<g fill="none" stroke-linejoin="round" filter="url(#b15)"><path d="M720.0,1150.8C712.4,1152.1 685.6,1155.7 674.6,1158.4C663.6,1161.1 662.9,1162.6 654.0,1167.0C645.1,1171.4 626.5,1182.0 621.0,1185.0" stroke="#2a72de" stroke-width="2.2" stroke-linecap="round" transform="translate(0.6,-0.6)"/><path d="M720.0,1194.0C712.4,1195.5 686.4,1199.4 674.6,1203.0C662.8,1206.6 658.8,1210.9 649.0,1215.7C639.2,1220.5 621.5,1229.3 616.0,1232.0" stroke="#2a72de" stroke-width="2.2" stroke-linecap="round" transform="translate(0.6,-0.6)"/><path d="M720.0,1262.8C712.4,1264.7 686.4,1270.0 674.6,1274.0C662.8,1278.0 660.0,1283.6 649.0,1287.0C638.0,1290.4 615.2,1293.3 608.4,1294.6" stroke="#2a72de" stroke-width="2.2" stroke-linecap="round" transform="translate(0.6,-0.6)"/><path d="M803.0,1153.3C811.9,1152.7 841.6,1148.9 856.4,1149.5C871.2,1150.1 882.7,1154.2 892.0,1157.0C901.3,1159.8 903.1,1164.9 912.4,1166.0C921.7,1167.1 942.1,1163.9 948.0,1163.5" stroke="#2a72de" stroke-width="2.2" stroke-linecap="round" transform="translate(0.6,-0.6)"/><path d="M803.0,1196.6C811.0,1196.2 836.2,1192.9 851.0,1194.0C865.8,1195.1 880.5,1199.4 892.0,1203.0C903.5,1206.6 911.5,1212.4 920.0,1215.7C928.5,1219.0 939.2,1221.8 943.0,1223.0" stroke="#2a72de" stroke-width="2.2" stroke-linecap="round" transform="translate(0.6,-0.6)"/><path d="M802.0,1259.0C809.3,1258.2 831.4,1252.3 846.0,1254.0C860.6,1255.7 877.6,1264.3 889.5,1269.0C901.4,1273.7 908.6,1279.4 917.5,1282.0C926.4,1284.6 938.8,1284.0 943.0,1284.4" stroke="#2a72de" stroke-width="2.2" stroke-linecap="round" transform="translate(0.6,-0.6)"/><path d="M650.0,369.0C645.3,365.8 630.0,359.2 622.0,350.0C614.0,340.8 608.8,325.1 602.0,314.0C595.2,302.9 590.0,291.2 581.5,283.5C573.0,275.8 560.1,271.6 551.0,268.0C541.9,264.4 531.0,263.0 527.0,262.0" stroke="#2a72de" stroke-width="2.7" stroke-linecap="round" transform="translate(0.7,-0.7)"/><path d="M879.5,178.0C879.2,185.3 876.8,209.1 878.0,222.0C879.2,234.9 881.8,245.3 886.5,255.6C891.2,265.9 898.5,276.7 906.0,283.7C913.5,290.7 923.3,296.3 931.3,297.7C939.2,299.1 946.2,297.1 953.7,292.0C961.2,286.9 969.5,275.3 976.0,266.9C982.5,258.5 986.0,249.1 993.0,241.6C1000.0,234.1 1008.7,226.4 1018.0,222.0C1027.3,217.6 1043.8,216.2 1049.0,215.0" stroke="#2a72de" stroke-width="2.9" stroke-linecap="round" transform="translate(0.8,-0.8)"/><path d="M953.0,871.0Q955.2,893.5 944.5,922.0" stroke="#2a72de" stroke-width="2.5" stroke-linecap="round" transform="translate(0.7,-0.7)"/><path d="M735.0,834.0Q716.0,855.0 693.0,860.0" stroke="#2a72de" stroke-width="2.6" stroke-linecap="round" transform="translate(0.7,-0.7)"/></g>
<g fill="none" stroke-linejoin="round" filter="url(#b1)"><path d="M634.0,453.0Q605.0,474.5 584.0,460.0" stroke="#2a72de" stroke-width="2.1" stroke-linecap="round" transform="translate(0.6,-0.6)"/><path d="M634.0,494.0Q606.2,511.2 585.5,503.5" stroke="#2a72de" stroke-width="2.1" stroke-linecap="round" transform="translate(0.6,-0.6)"/><path d="M636.0,540.0Q605.2,562.7 585.5,550.6" stroke="#2a72de" stroke-width="2.1" stroke-linecap="round" transform="translate(0.6,-0.6)"/><path d="M639.0,585.0Q604.5,597.7 584.0,590.0" stroke="#2a72de" stroke-width="2.1" stroke-linecap="round" transform="translate(0.6,-0.6)"/><path d="M642.0,622.0Q599.0,642.7 584.0,631.0" stroke="#2a72de" stroke-width="2.1" stroke-linecap="round" transform="translate(0.6,-0.6)"/><path d="M647.0,680.0Q609.0,700.5 589.0,687.0" stroke="#2a72de" stroke-width="2.1" stroke-linecap="round" transform="translate(0.6,-0.6)"/><path d="M648.0,735.0Q617.0,746.9 602.0,739.3" stroke="#2a72de" stroke-width="2.1" stroke-linecap="round" transform="translate(0.6,-0.6)"/><path d="M649.0,775.5Q618.5,792.2 598.0,780.0" stroke="#2a72de" stroke-width="2.1" stroke-linecap="round" transform="translate(0.6,-0.6)"/><path d="M913.0,429.0Q926.8,439.0 949.5,427.0" stroke="#2a72de" stroke-width="2.1" stroke-linecap="round" transform="translate(0.6,-0.6)"/><path d="M896.0,465.0Q914.0,480.5 942.0,476.0" stroke="#2a72de" stroke-width="2.1" stroke-linecap="round" transform="translate(0.6,-0.6)"/><path d="M866.0,491.0Q874.8,515.3 916.5,514.4" stroke="#2a72de" stroke-width="2.1" stroke-linecap="round" transform="translate(0.6,-0.6)"/><path d="M878.0,652.0Q902.2,665.0 921.5,650.0" stroke="#2a72de" stroke-width="2.1" stroke-linecap="round" transform="translate(0.6,-0.6)"/><path d="M886.0,701.0Q912.5,709.4 933.0,694.7" stroke="#2a72de" stroke-width="2.1" stroke-linecap="round" transform="translate(0.6,-0.6)"/><path d="M888.0,742.0Q917.5,751.4 933.0,738.0" stroke="#2a72de" stroke-width="2.1" stroke-linecap="round" transform="translate(0.6,-0.6)"/><path d="M889.0,785.0Q919.0,796.1 939.0,778.8" stroke="#2a72de" stroke-width="2.1" stroke-linecap="round" transform="translate(0.6,-0.6)"/><path d="M584.0,291.0Q562.8,308.8 530.5,311.5" stroke="#2a72de" stroke-width="1.9" stroke-linecap="round" transform="translate(0.5,-0.5)"/><path d="M604.0,328.0Q584.5,345.5 547.0,349.0" stroke="#2a72de" stroke-width="1.9" stroke-linecap="round" transform="translate(0.5,-0.5)"/><path d="M990.0,248.6Q1015.1,259.2 1051.7,257.0" stroke="#2a72de" stroke-width="1.8" stroke-linecap="round" transform="translate(0.4,-0.4)"/><path d="M976.0,278.0Q999.4,294.4 1029.3,289.3" stroke="#2a72de" stroke-width="1.9" stroke-linecap="round" transform="translate(0.5,-0.5)"/><path d="M846.0,913.0L892.0,869.3" stroke="#2a72de" stroke-width="2.2" stroke-linecap="round" transform="translate(0.6,-0.6)"/></g>
</g>
<g fill="none" stroke="#0a188a" stroke-width="4.5" stroke-dasharray="16 5.5"><path d="M913.5,308Q905,350 904.5,389"/><path d="M926,309.5Q918,350 917.5,389"/></g>
<path d="M557.5,910 Q548,918 544,932 L545,944 Q550,952 552,962 L552,976 L566,976 Q570,958 571,943 Q570,925 566,917 Q562,911 557.5,910Z" fill="#cdb545"/><g fill="none" stroke-linecap="butt"><path d="M559.5,972.0C558.7,976.0 557.0,984.3 554.5,996.0C552.0,1007.7 547.8,1029.3 544.5,1042.0C541.2,1054.7 538.0,1059.3 534.7,1072.0C531.4,1084.7 528.1,1102.7 524.8,1118.0C521.5,1133.3 518.0,1148.4 515.0,1163.6C512.0,1178.8 509.4,1193.5 506.6,1209.0C503.8,1224.5 500.2,1241.2 498.0,1256.4C495.8,1271.6 494.5,1284.2 493.5,1300.0C492.5,1315.8 491.8,1332.8 492.0,1351.0C492.2,1369.2 493.4,1391.0 494.7,1409.5C496.0,1428.0 499.1,1453.2 500.0,1462.0" stroke="#a38a24" stroke-width="13.0"/><path d="M559.5,972.0C558.7,976.0 557.0,984.3 554.5,996.0C552.0,1007.7 547.8,1029.3 544.5,1042.0C541.2,1054.7 538.0,1059.3 534.7,1072.0C531.4,1084.7 528.1,1102.7 524.8,1118.0C521.5,1133.3 518.0,1148.4 515.0,1163.6C512.0,1178.8 509.4,1193.5 506.6,1209.0C503.8,1224.5 500.2,1241.2 498.0,1256.4C495.8,1271.6 494.5,1284.2 493.5,1300.0C492.5,1315.8 491.8,1332.8 492.0,1351.0C492.2,1369.2 493.4,1391.0 494.7,1409.5C496.0,1428.0 499.1,1453.2 500.0,1462.0" stroke="#cdb545" stroke-width="9.1"/><path d="M559.5,972.0C558.7,976.0 557.0,984.3 554.5,996.0C552.0,1007.7 547.8,1029.3 544.5,1042.0C541.2,1054.7 538.0,1059.3 534.7,1072.0C531.4,1084.7 528.1,1102.7 524.8,1118.0C521.5,1133.3 518.0,1148.4 515.0,1163.6C512.0,1178.8 509.4,1193.5 506.6,1209.0C503.8,1224.5 500.2,1241.2 498.0,1256.4C495.8,1271.6 494.5,1284.2 493.5,1300.0C492.5,1315.8 491.8,1332.8 492.0,1351.0C492.2,1369.2 493.4,1391.0 494.7,1409.5C496.0,1428.0 499.1,1453.2 500.0,1462.0" stroke="#e6d778" stroke-width="3.9" filter="url(#b1)"/></g><path d="M493.5,1461 L506.5,1461 L507,1480 L504,1490 L498,1480Z" fill="#cdb545"/>
<path d="M553,918 Q549,935 553,950" stroke="#e6d778" stroke-width="5" fill="none" filter="url(#b1)"/>
<path d="M986,904 Q990,915 986.5,932 Q982,948 979.5,964 L967,964 Q963,946 964.5,930 Q968,913 980,906 Q984,903 986,904Z" fill="#cdb545"/><g fill="none" stroke-linecap="butt"><path d="M973.0,962.0C973.7,964.8 972.2,968.4 977.0,978.8C981.8,989.2 994.5,1009.7 1001.5,1024.6C1008.5,1039.5 1013.8,1055.7 1019.3,1068.0C1024.8,1080.3 1029.5,1086.3 1034.6,1098.6C1039.7,1110.9 1044.5,1124.0 1050.0,1141.8C1055.5,1159.6 1062.6,1184.3 1067.7,1205.5C1072.8,1226.7 1077.4,1253.2 1080.4,1269.0C1083.5,1284.8 1083.8,1286.3 1086.0,1300.0C1088.2,1313.7 1091.5,1337.7 1093.5,1351.0C1095.5,1364.3 1097.2,1375.2 1098.0,1380.0" stroke="#a38a24" stroke-width="10.5"/><path d="M973.0,962.0C973.7,964.8 972.2,968.4 977.0,978.8C981.8,989.2 994.5,1009.7 1001.5,1024.6C1008.5,1039.5 1013.8,1055.7 1019.3,1068.0C1024.8,1080.3 1029.5,1086.3 1034.6,1098.6C1039.7,1110.9 1044.5,1124.0 1050.0,1141.8C1055.5,1159.6 1062.6,1184.3 1067.7,1205.5C1072.8,1226.7 1077.4,1253.2 1080.4,1269.0C1083.5,1284.8 1083.8,1286.3 1086.0,1300.0C1088.2,1313.7 1091.5,1337.7 1093.5,1351.0C1095.5,1364.3 1097.2,1375.2 1098.0,1380.0" stroke="#cdb545" stroke-width="7.3"/><path d="M973.0,962.0C973.7,964.8 972.2,968.4 977.0,978.8C981.8,989.2 994.5,1009.7 1001.5,1024.6C1008.5,1039.5 1013.8,1055.7 1019.3,1068.0C1024.8,1080.3 1029.5,1086.3 1034.6,1098.6C1039.7,1110.9 1044.5,1124.0 1050.0,1141.8C1055.5,1159.6 1062.6,1184.3 1067.7,1205.5C1072.8,1226.7 1077.4,1253.2 1080.4,1269.0C1083.5,1284.8 1083.8,1286.3 1086.0,1300.0C1088.2,1313.7 1091.5,1337.7 1093.5,1351.0C1095.5,1364.3 1097.2,1375.2 1098.0,1380.0" stroke="#e6d778" stroke-width="3.1" filter="url(#b1)"/></g><path d="M1092.5,1379 L1103,1379 L1103.5,1385 L1100.5,1392 L1096,1386Z" fill="#cdb545"/>
<path d="M978,912 Q970,930 970,948" stroke="#e6d778" stroke-width="4" fill="none" filter="url(#b1)"/>
<g fill="none" stroke="#15309e" stroke-width="4.6" stroke-linecap="round" stroke-linejoin="round"><path d="M556.4,959.5L556.9,962.3L557.8,965.1L558.9,967.8L560.3,970.4L561.8,972.8L563.2,975.1L564.5,977.2L565.6,979.0L566.3,980.7L566.7,982.1L566.6,983.4L566.0,984.6L564.9,985.7L563.4,986.7L561.5,987.8L559.2,988.7L556.9,990.1L554.5,991.7L552.1,993.5L549.9,995.4L547.9,997.6L546.3,999.9L545.1,1002.4L544.3,1005.0L544.1,1007.7L544.3,1010.5L545.0,1013.3L546.0,1016.0L547.3,1018.6L548.9,1021.1L550.5,1023.5L552.1,1025.7L553.5,1027.6L554.7,1029.4L555.5,1031.0L556.0,1032.4L555.9,1033.7L555.4,1034.9L554.4,1036.1L552.9,1037.2L551.1,1038.4L549.0,1040.1L546.5,1041.2L543.9,1042.4L541.3,1043.8L538.8,1045.4L536.6,1047.3L534.6,1049.4L533.1,1051.7L532.0,1054.2L531.3,1056.8L531.2,1059.6L531.4,1062.4L532.1,1065.3L533.0,1068.1L534.2,1070.8L535.5,1073.3L537.2,1075.4L538.6,1077.4L539.8,1079.2L540.6,1080.8L541.0,1082.2L540.9,1083.5L540.4,1084.7L539.3,1085.9L537.9,1087.0L536.0,1088.2L533.9,1089.4L531.6,1090.8L529.1,1092.3L526.7,1094.1L524.5,1096.0L522.5,1098.1L520.8,1100.4L519.6,1102.9L518.8,1105.5L518.5,1108.2L518.7,1111.0L519.3,1113.7L520.3,1116.5L521.6,1119.1L523.1,1121.7L524.7,1124.1L526.2,1126.2L527.7,1128.2L528.8,1130.0L529.6,1131.6L530.0,1133.1L530.0,1134.4L529.4,1135.6L528.4,1136.7L526.9,1137.8L525.1,1139.0L523.0,1140.3L520.6,1141.6L518.2,1143.2L515.8,1144.9L513.6,1146.8L511.6,1148.9L509.9,1151.2L508.7,1153.7L507.9,1156.3L507.6,1159.0L507.8,1161.8L508.4,1164.5L509.4,1167.3L510.6,1170.0L512.1,1172.5L513.7,1174.9L515.2,1177.1L516.6,1179.1L517.8,1180.9L518.6,1182.5L519.0,1183.9L518.9,1185.2L518.3,1186.4L517.3,1187.6L515.8,1188.7L514.0,1189.8L511.8,1191.1L505.0,1195.3L503.7,1192.7L502.7,1189.9L502.1,1187.1L502.0,1184.4L502.3,1181.6L503.1,1179.0L504.3,1176.6L506.0,1174.3L508.0,1172.2L510.3,1170.3L512.7,1168.6L515.1,1167.1L517.5,1165.7L519.6,1164.5L521.5,1163.3L522.9,1162.1L524.0,1161.0L524.5,1159.8L524.6,1158.5L524.2,1157.1L523.4,1155.5L522.2,1153.7L520.8,1151.7L519.2,1149.5L517.6,1147.1L516.1,1144.6L514.8,1141.9L513.8,1139.2L513.2,1136.4L513.0,1133.6L513.3,1130.9L514.1,1128.3L515.4,1125.8L517.0,1123.5L519.0,1121.4L521.3,1119.5L523.7,1117.8L526.1,1116.2L528.4,1114.8L530.6,1113.6L532.4,1112.4L533.9,1111.3L534.9,1110.2L535.4,1109.0L535.5,1107.7L535.1,1106.2L534.3,1104.6L533.1,1102.8L531.7,1100.8L530.2,1098.6L528.6,1096.3L527.1,1093.7L525.8,1091.1L524.8,1088.3L524.2,1085.5L524.0,1082.8L524.3,1080.1L525.1,1077.4L526.3,1075.0L528.0,1072.7L530.0,1070.6L532.2,1068.6L535.2,1066.9L537.9,1065.7L540.3,1064.7L542.6,1063.7L544.6,1062.8L546.2,1061.8L547.4,1060.8L548.0,1059.7L548.3,1058.4L548.1,1057.0L547.5,1055.3L546.5,1053.3L545.4,1051.2L544.1,1048.8L542.9,1046.3L541.7,1043.6L540.9,1041.5L539.9,1038.8L539.2,1036.0L539.0,1033.2L539.2,1030.5L540.0,1027.9L541.2,1025.4L542.8,1023.1L544.8,1020.9L547.0,1019.0L549.4,1017.2L551.8,1015.6L554.1,1014.2L556.2,1012.9L558.0,1011.7L559.5,1010.6L560.5,1009.4L561.0,1008.2L561.1,1006.9L560.6,1005.5L559.8,1003.9L558.6,1002.1L557.2,1000.2L555.6,998.0L554.0,995.6L552.4,993.1L551.1,990.2L550.2,987.4L549.7,984.6L549.7,981.8L550.1,979.1L551.0,976.5L552.4,974.1L554.1,971.9L556.2,969.9L558.6,968.1L561.1,966.5L563.6,965.1L566.0,963.8L568.2,962.7L570.1,961.6L571.6,960.5"/><path d="M584,943 Q578,952 568,957"/></g>
<g fill="none" stroke="#2858cc" stroke-width="1.3" stroke-linecap="round" stroke-linejoin="round" opacity="0.8"><path d="M556.4,959.5L556.9,962.3L557.8,965.1L558.9,967.8L560.3,970.4L561.8,972.8L563.2,975.1L564.5,977.2L565.6,979.0L566.3,980.7L566.7,982.1L566.6,983.4L566.0,984.6L564.9,985.7L563.4,986.7L561.5,987.8L559.2,988.7L556.9,990.1L554.5,991.7L552.1,993.5L549.9,995.4L547.9,997.6L546.3,999.9L545.1,1002.4L544.3,1005.0L544.1,1007.7L544.3,1010.5L545.0,1013.3L546.0,1016.0L547.3,1018.6L548.9,1021.1L550.5,1023.5L552.1,1025.7L553.5,1027.6L554.7,1029.4L555.5,1031.0L556.0,1032.4L555.9,1033.7L555.4,1034.9L554.4,1036.1L552.9,1037.2L551.1,1038.4L549.0,1040.1L546.5,1041.2L543.9,1042.4L541.3,1043.8L538.8,1045.4L536.6,1047.3L534.6,1049.4L533.1,1051.7L532.0,1054.2L531.3,1056.8L531.2,1059.6L531.4,1062.4L532.1,1065.3L533.0,1068.1L534.2,1070.8L535.5,1073.3L537.2,1075.4L538.6,1077.4L539.8,1079.2L540.6,1080.8L541.0,1082.2L540.9,1083.5L540.4,1084.7L539.3,1085.9L537.9,1087.0L536.0,1088.2L533.9,1089.4L531.6,1090.8L529.1,1092.3L526.7,1094.1L524.5,1096.0L522.5,1098.1L520.8,1100.4L519.6,1102.9L518.8,1105.5L518.5,1108.2L518.7,1111.0L519.3,1113.7L520.3,1116.5L521.6,1119.1L523.1,1121.7L524.7,1124.1L526.2,1126.2L527.7,1128.2L528.8,1130.0L529.6,1131.6L530.0,1133.1L530.0,1134.4L529.4,1135.6L528.4,1136.7L526.9,1137.8L525.1,1139.0L523.0,1140.3L520.6,1141.6L518.2,1143.2L515.8,1144.9L513.6,1146.8L511.6,1148.9L509.9,1151.2L508.7,1153.7L507.9,1156.3L507.6,1159.0L507.8,1161.8L508.4,1164.5L509.4,1167.3L510.6,1170.0L512.1,1172.5L513.7,1174.9L515.2,1177.1L516.6,1179.1L517.8,1180.9L518.6,1182.5L519.0,1183.9L518.9,1185.2L518.3,1186.4L517.3,1187.6L515.8,1188.7L514.0,1189.8L511.8,1191.1L505.0,1195.3L503.7,1192.7L502.7,1189.9L502.1,1187.1L502.0,1184.4L502.3,1181.6L503.1,1179.0L504.3,1176.6L506.0,1174.3L508.0,1172.2L510.3,1170.3L512.7,1168.6L515.1,1167.1L517.5,1165.7L519.6,1164.5L521.5,1163.3L522.9,1162.1L524.0,1161.0L524.5,1159.8L524.6,1158.5L524.2,1157.1L523.4,1155.5L522.2,1153.7L520.8,1151.7L519.2,1149.5L517.6,1147.1L516.1,1144.6L514.8,1141.9L513.8,1139.2L513.2,1136.4L513.0,1133.6L513.3,1130.9L514.1,1128.3L515.4,1125.8L517.0,1123.5L519.0,1121.4L521.3,1119.5L523.7,1117.8L526.1,1116.2L528.4,1114.8L530.6,1113.6L532.4,1112.4L533.9,1111.3L534.9,1110.2L535.4,1109.0L535.5,1107.7L535.1,1106.2L534.3,1104.6L533.1,1102.8L531.7,1100.8L530.2,1098.6L528.6,1096.3L527.1,1093.7L525.8,1091.1L524.8,1088.3L524.2,1085.5L524.0,1082.8L524.3,1080.1L525.1,1077.4L526.3,1075.0L528.0,1072.7L530.0,1070.6L532.2,1068.6L535.2,1066.9L537.9,1065.7L540.3,1064.7L542.6,1063.7L544.6,1062.8L546.2,1061.8L547.4,1060.8L548.0,1059.7L548.3,1058.4L548.1,1057.0L547.5,1055.3L546.5,1053.3L545.4,1051.2L544.1,1048.8L542.9,1046.3L541.7,1043.6L540.9,1041.5L539.9,1038.8L539.2,1036.0L539.0,1033.2L539.2,1030.5L540.0,1027.9L541.2,1025.4L542.8,1023.1L544.8,1020.9L547.0,1019.0L549.4,1017.2L551.8,1015.6L554.1,1014.2L556.2,1012.9L558.0,1011.7L559.5,1010.6L560.5,1009.4L561.0,1008.2L561.1,1006.9L560.6,1005.5L559.8,1003.9L558.6,1002.1L557.2,1000.2L555.6,998.0L554.0,995.6L552.4,993.1L551.1,990.2L550.2,987.4L549.7,984.6L549.7,981.8L550.1,979.1L551.0,976.5L552.4,974.1L554.1,971.9L556.2,969.9L558.6,968.1L561.1,966.5L563.6,965.1L566.0,963.8L568.2,962.7L570.1,961.6L571.6,960.5"/></g>
<g fill="none" stroke="#15309e" stroke-width="4.6" stroke-linecap="round" stroke-linejoin="round"><path d="M975.7,956.5L977.1,957.4L977.9,958.5L978.3,959.7L978.1,961.2L977.6,962.9L976.8,964.8L975.7,967.0L974.4,969.5L973.2,972.1L972.0,974.9L971.0,977.8L970.5,981.2L970.5,984.1L970.9,986.9L971.8,989.5L973.2,991.9L975.0,993.9L977.2,995.8L979.7,997.3L982.4,998.5L985.3,999.6L988.1,1000.4L990.9,1001.1L993.4,1001.7L995.7,1002.3L997.5,1002.9L998.9,1003.7L999.8,1004.7L1000.3,1005.9L1000.3,1007.3L1000.0,1009.1L999.3,1011.1L998.4,1013.4L997.3,1016.0L996.3,1018.7L995.4,1021.6L994.7,1024.2L994.1,1027.1L994.0,1030.0L994.2,1032.8L995.0,1035.4L996.2,1037.9L997.9,1040.1L1000.0,1042.0L1002.4,1043.7L1005.1,1045.1L1007.9,1046.3L1010.7,1047.3L1013.4,1048.1L1015.9,1048.8L1018.1,1049.6L1019.9,1050.3L1021.2,1051.2L1022.1,1052.2L1022.5,1053.4L1022.4,1054.9L1022.0,1056.6L1021.2,1058.6L1020.1,1060.9L1019.0,1063.3L1017.7,1066.1L1016.7,1068.9L1016.0,1071.9L1015.6,1074.8L1015.5,1077.7L1015.9,1080.5L1016.8,1083.1L1018.1,1085.5L1019.9,1087.6L1022.1,1089.4L1024.6,1091.0L1027.3,1092.3L1030.2,1093.3L1033.0,1094.2L1035.8,1094.9L1038.3,1095.5L1040.5,1096.2L1042.5,1097.7L1043.8,1098.7L1044.6,1099.8L1044.9,1101.0L1044.7,1102.5L1044.1,1104.2L1043.2,1106.1L1042.0,1108.2L1040.7,1110.6L1039.3,1113.2L1038.0,1115.9L1037.0,1118.8L1036.2,1121.7L1035.8,1124.5L1035.9,1127.3L1036.4,1130.0L1037.5,1132.5L1053.8,1125.5L1053.5,1124.2L1052.7,1123.1L1051.4,1122.2L1049.6,1121.3L1047.5,1120.4L1045.1,1119.5L1042.4,1118.5L1039.7,1117.3L1037.0,1115.9L1034.4,1114.3L1032.1,1112.5L1030.2,1110.4L1028.6,1108.1L1027.6,1105.6L1027.0,1102.9L1026.9,1100.1L1027.2,1098.1L1027.6,1095.1L1028.4,1092.2L1029.3,1089.3L1030.4,1086.6L1031.4,1084.1L1032.4,1081.8L1033.1,1079.8L1033.5,1078.0L1033.5,1076.6L1033.0,1075.4L1032.1,1074.4L1030.7,1073.6L1028.9,1072.9L1026.7,1072.3L1024.1,1071.6L1021.4,1070.9L1018.4,1070.0L1015.7,1068.8L1013.0,1067.4L1010.6,1065.8L1008.5,1063.8L1006.8,1061.6L1005.6,1059.2L1004.8,1056.6L1004.5,1053.8L1004.7,1050.9L1005.3,1048.0L1006.1,1045.1L1007.2,1042.2L1008.4,1039.6L1009.6,1037.1L1010.6,1034.9L1011.4,1032.9L1011.9,1031.1L1011.9,1029.7L1011.6,1028.5L1010.7,1027.4L1009.3,1026.6L1007.5,1025.8L1005.3,1025.1L1002.8,1024.2L1000.1,1023.5L997.2,1022.7L994.3,1021.7L991.6,1020.4L989.1,1018.9L986.9,1017.1L985.1,1015.0L983.7,1012.6L982.8,1010.0L982.4,1007.3L982.4,1004.4L982.8,1001.4L983.5,998.4L984.4,995.6L985.4,992.8L986.5,990.3L987.4,988.0L988.0,986.0L988.4,984.2L988.4,982.8L987.9,981.6L987.0,980.6L985.6,979.8L983.7,979.2L981.6,979.0L979.2,978.1L976.5,977.2L973.7,976.1L970.9,974.9L968.3,973.4L965.9,971.7L963.9,969.7L962.3,967.4L961.1,964.9L960.5,962.3L960.3,959.5"/><path d="M962,950 Q962,956 968,960"/></g>
<g fill="none" stroke="#2858cc" stroke-width="1.3" stroke-linecap="round" stroke-linejoin="round" opacity="0.8"><path d="M975.7,956.5L977.1,957.4L977.9,958.5L978.3,959.7L978.1,961.2L977.6,962.9L976.8,964.8L975.7,967.0L974.4,969.5L973.2,972.1L972.0,974.9L971.0,977.8L970.5,981.2L970.5,984.1L970.9,986.9L971.8,989.5L973.2,991.9L975.0,993.9L977.2,995.8L979.7,997.3L982.4,998.5L985.3,999.6L988.1,1000.4L990.9,1001.1L993.4,1001.7L995.7,1002.3L997.5,1002.9L998.9,1003.7L999.8,1004.7L1000.3,1005.9L1000.3,1007.3L1000.0,1009.1L999.3,1011.1L998.4,1013.4L997.3,1016.0L996.3,1018.7L995.4,1021.6L994.7,1024.2L994.1,1027.1L994.0,1030.0L994.2,1032.8L995.0,1035.4L996.2,1037.9L997.9,1040.1L1000.0,1042.0L1002.4,1043.7L1005.1,1045.1L1007.9,1046.3L1010.7,1047.3L1013.4,1048.1L1015.9,1048.8L1018.1,1049.6L1019.9,1050.3L1021.2,1051.2L1022.1,1052.2L1022.5,1053.4L1022.4,1054.9L1022.0,1056.6L1021.2,1058.6L1020.1,1060.9L1019.0,1063.3L1017.7,1066.1L1016.7,1068.9L1016.0,1071.9L1015.6,1074.8L1015.5,1077.7L1015.9,1080.5L1016.8,1083.1L1018.1,1085.5L1019.9,1087.6L1022.1,1089.4L1024.6,1091.0L1027.3,1092.3L1030.2,1093.3L1033.0,1094.2L1035.8,1094.9L1038.3,1095.5L1040.5,1096.2L1042.5,1097.7L1043.8,1098.7L1044.6,1099.8L1044.9,1101.0L1044.7,1102.5L1044.1,1104.2L1043.2,1106.1L1042.0,1108.2L1040.7,1110.6L1039.3,1113.2L1038.0,1115.9L1037.0,1118.8L1036.2,1121.7L1035.8,1124.5L1035.9,1127.3L1036.4,1130.0L1037.5,1132.5L1053.8,1125.5L1053.5,1124.2L1052.7,1123.1L1051.4,1122.2L1049.6,1121.3L1047.5,1120.4L1045.1,1119.5L1042.4,1118.5L1039.7,1117.3L1037.0,1115.9L1034.4,1114.3L1032.1,1112.5L1030.2,1110.4L1028.6,1108.1L1027.6,1105.6L1027.0,1102.9L1026.9,1100.1L1027.2,1098.1L1027.6,1095.1L1028.4,1092.2L1029.3,1089.3L1030.4,1086.6L1031.4,1084.1L1032.4,1081.8L1033.1,1079.8L1033.5,1078.0L1033.5,1076.6L1033.0,1075.4L1032.1,1074.4L1030.7,1073.6L1028.9,1072.9L1026.7,1072.3L1024.1,1071.6L1021.4,1070.9L1018.4,1070.0L1015.7,1068.8L1013.0,1067.4L1010.6,1065.8L1008.5,1063.8L1006.8,1061.6L1005.6,1059.2L1004.8,1056.6L1004.5,1053.8L1004.7,1050.9L1005.3,1048.0L1006.1,1045.1L1007.2,1042.2L1008.4,1039.6L1009.6,1037.1L1010.6,1034.9L1011.4,1032.9L1011.9,1031.1L1011.9,1029.7L1011.6,1028.5L1010.7,1027.4L1009.3,1026.6L1007.5,1025.8L1005.3,1025.1L1002.8,1024.2L1000.1,1023.5L997.2,1022.7L994.3,1021.7L991.6,1020.4L989.1,1018.9L986.9,1017.1L985.1,1015.0L983.7,1012.6L982.8,1010.0L982.4,1007.3L982.4,1004.4L982.8,1001.4L983.5,998.4L984.4,995.6L985.4,992.8L986.5,990.3L987.4,988.0L988.0,986.0L988.4,984.2L988.4,982.8L987.9,981.6L987.0,980.6L985.6,979.8L983.7,979.2L981.6,979.0L979.2,978.1L976.5,977.2L973.7,976.1L970.9,974.9L968.3,973.4L965.9,971.7L963.9,969.7L962.3,967.4L961.1,964.9L960.5,962.3L960.3,959.5"/></g>
<clipPath id="csvc"><path d="M687.6,177 Q697,158 716.1,142.3 C726,150 752,175 770.5,194 C780,185 790,177 795.5,173.5 C806,165 820,157 831,152 C845,147 855,144 865,141.4 C880,137.5 890,135 900.6,133.4 C908,134 912,138 913,141.4 C917,146 919.5,151 919.4,155.6 C919.5,160 919,164 917.6,166.3 C905,170 893,174 882.8,178.8 C873,184 864,192 856,198.4 C847,205 838,212 829.3,218 C823,223 817,228 812.4,232.3 C814,240 815.5,247 816,253.7 C817.5,268 818,283 817.8,298.3 C817.5,316 816.5,334 815,351.7 C814,362 813.3,373 812.4,383.8 Q811,390 808,392.7 Q797,397 784.8,397.2 Q771,397 759.8,392.7 Q745,388 737.5,383.8 C738,367 738.8,350 739.3,334 C740,319 740.5,304 740.2,289.3 C740,274 738,259 734.9,244.8 C732,234 728,225 722.4,216.3 C717,208 711,201 704.6,194.9 C699,189 693,183 687.6,177Z"/></clipPath>
<path d="M687.6,177 Q697,158 716.1,142.3 C726,150 752,175 770.5,194 C780,185 790,177 795.5,173.5 C806,165 820,157 831,152 C845,147 855,144 865,141.4 C880,137.5 890,135 900.6,133.4 C908,134 912,138 913,141.4 C917,146 919.5,151 919.4,155.6 C919.5,160 919,164 917.6,166.3 C905,170 893,174 882.8,178.8 C873,184 864,192 856,198.4 C847,205 838,212 829.3,218 C823,223 817,228 812.4,232.3 C814,240 815.5,247 816,253.7 C817.5,268 818,283 817.8,298.3 C817.5,316 816.5,334 815,351.7 C814,362 813.3,373 812.4,383.8 Q811,390 808,392.7 Q797,397 784.8,397.2 Q771,397 759.8,392.7 Q745,388 737.5,383.8 C738,367 738.8,350 739.3,334 C740,319 740.5,304 740.2,289.3 C740,274 738,259 734.9,244.8 C732,234 728,225 722.4,216.3 C717,208 711,201 704.6,194.9 C699,189 693,183 687.6,177Z" fill="#0a27b4"/><g clip-path="url(#csvc)" fill="none"><path d="M682,185 C700,200 722,222 730,248 C738,280 737,330 735,395" stroke="#1a1f7c" stroke-width="40" filter="url(#b6)"/><path d="M920,172 C885,184 850,208 812,240" stroke="#1a1f7c" stroke-width="14" filter="url(#b3)"/><path d="M772,192 C795,170 840,148 902,131" stroke="#141f88" stroke-width="10" filter="url(#b3)"/><path d="M716,140 C735,158 755,176 772,196" stroke="#141f88" stroke-width="8" filter="url(#b3)"/><path d="M712,165 C735,190 765,225 778,262 C786,300 785,350 782,395" stroke="#2166d8" stroke-width="17" filter="url(#b6)"/><path d="M796,214 C825,186 865,166 908,152" stroke="#2166d8" stroke-width="13" filter="url(#b6)"/></g><ellipse cx="911.5" cy="150.5" rx="6" ry="14.5" transform="rotate(-24 911.5 150.5)" fill="#18248c" stroke="#1a48c0" stroke-width="2"/><path d="M690,178 Q697,160 716,145" fill="none" stroke="#1a48c0" stroke-width="2" opacity="0.8"/>
<defs><g id="gL2" stroke-linejoin="round"><path d="M726.8,737 L726.8,885 C726,920 723,945 722,962 C719,1030 717,1090 716.6,1150 C716,1200 715.5,1250 715.5,1300 L715.5,1345 L805,1345 L804.5,1300 C805,1250 806,1200 807,1150 C808.5,1090 810,1030 811,962 L810.8,885 L810.8,737Z" fill="currentColor" stroke="none"/><path d="M727,878 Q727,896 710,896.5 L710,930 L740,930 L740,878Z" fill="currentColor" stroke="none"/><path d="M811,872 Q811,905 834,907.5 L834,930 L800,930 L800,872Z" fill="currentColor" stroke="none"/><path d="M722.5,962 Q722,956 716,955.5 L716,930 L740,930 L740,962Z" fill="currentColor" stroke="none"/><path d="M809.5,963 Q810,957.5 816,957 L816,930 L800,930 L800,963Z" fill="currentColor" stroke="none"/><path d="M557,909 L588,902 L722,895 L724,956 L583,947 L568,946Z" fill="currentColor" stroke="none"/><path d="M812,906 L971,916.4 L965,955 L810,957Z" fill="currentColor" stroke="none"/><path d="M715.5,1300.0C715.5,1306.7 715.5,1327.7 715.3,1340.0C715.1,1352.3 720.5,1357.8 714.5,1374.0C708.5,1390.2 692.8,1416.0 679.0,1437.5C665.2,1459.0 648.1,1481.9 632.0,1503.0C615.9,1524.1 599.1,1544.5 582.6,1564.0C566.1,1583.5 549.4,1601.0 533.0,1620.0C516.6,1639.0 492.6,1668.3 484.5,1678.0L506.2,1703.7C512.1,1699.0 527.4,1689.7 541.8,1675.7C556.2,1661.7 575.0,1637.1 592.8,1619.7C610.6,1602.3 634.8,1583.8 648.8,1571.3C662.8,1558.8 661.5,1562.0 676.8,1544.4C692.1,1526.8 725.1,1483.6 740.4,1465.5C755.7,1447.4 763.8,1440.9 768.5,1436.0L760,1300Z" fill="currentColor" stroke="none"/><path d="M804.5,1300.0C804.6,1305.8 804.5,1325.7 805.2,1335.0C806.0,1344.3 806.9,1349.7 809.0,1356.0C811.1,1362.3 809.5,1363.3 818.0,1373.0C826.5,1382.7 844.2,1399.5 860.0,1414.0C875.8,1428.5 887.0,1438.7 912.8,1460.0C938.6,1481.3 990.6,1522.4 1014.6,1542.0C1038.6,1561.6 1045.4,1567.6 1056.6,1577.5C1067.8,1587.4 1065.7,1585.6 1082.0,1601.5C1098.3,1617.4 1134.9,1651.6 1154.6,1672.8C1174.3,1694.0 1192.8,1719.5 1200.4,1728.8L1173.7,1753.0C1166.2,1745.2 1146.2,1723.5 1129.0,1705.9C1111.8,1688.3 1084.1,1660.5 1070.6,1647.3C1057.0,1634.1 1057.0,1634.9 1047.7,1627.0C1038.4,1619.1 1027.8,1610.0 1014.6,1600.0C1001.5,1590.0 990.1,1580.1 968.8,1567.0C947.5,1553.9 913.3,1536.3 887.0,1521.5C860.7,1506.7 830.9,1492.0 811.0,1478.0C791.1,1464.0 774.8,1444.2 767.6,1437.5L760,1300Z" fill="currentColor" stroke="none"/><path d="M662.0,1540.0C663.7,1544.2 668.8,1556.7 672.0,1565.0C675.2,1573.3 678.4,1581.5 681.0,1590.0C683.6,1598.5 686.4,1611.7 687.5,1616.0" fill="none" stroke="currentColor" stroke-width="27.0" stroke-linecap="butt"/><path d="M985.0,1558.0C983.7,1561.7 979.7,1572.7 977.0,1580.0C974.3,1587.3 971.5,1594.8 969.0,1602.0C966.5,1609.2 963.2,1619.5 962.0,1623.0" fill="none" stroke="currentColor" stroke-width="27.0" stroke-linecap="butt"/></g><mask id="mL2" maskUnits="userSpaceOnUse" x="0" y="0" width="1571" height="2106"><use href="#gL2" color="#fff"/></mask></defs>
<use href="#gL2" color="#0b22b4"/>
<g mask="url(#mL2)">
<g fill="none" stroke-linejoin="round" filter="url(#b3)"><g mask="url(#mfade)"><path d="M726.8,700 L726.8,885 C726,920 723,945 722,962 C719,1030 717,1090 716.6,1150 C716,1200 715.5,1250 715.5,1300 L715,1372 L735,1405 L764,1428 L792,1405 L809,1356 L804.5,1300 C805,1250 806,1200 807,1150 C808.5,1090 810,1030 811,962 L810.8,885 L810.8,700Z" fill="url(#givc)" stroke="url(#givc)" stroke-width="2"/></g></g>
<g fill="none" stroke-linejoin="round" filter="url(#b6)"><path d="M560,925 L705,925" stroke="#131f86" stroke-width="25.0" stroke-linecap="round" transform="translate(-10.0,10.0)"/><path d="M560,903 L722,894" stroke="#131f86" stroke-width="12"/><path d="M830,931 L975,936" stroke="#131f86" stroke-width="23.0" stroke-linecap="round" transform="translate(-9.2,9.2)"/><path d="M814,905 L972,915" stroke="#131f86" stroke-width="12"/><path d="M740.0,1410.0C735.3,1417.0 725.7,1432.8 712.0,1452.0C698.3,1471.2 674.0,1504.2 658.0,1525.0C642.0,1545.8 623.0,1568.3 616.0,1577.0" stroke="#131f86" stroke-width="32.0" stroke-linecap="butt" transform="translate(-12.8,12.8)"/><path d="M616.0,1577.0Q574.5,1620.0 495.0,1691.0" stroke="#131f86" stroke-width="21.0" stroke-linecap="butt" transform="translate(-8.4,8.4)"/><path d="M714.0,1310.0C713.8,1315.8 713.5,1334.3 713.0,1345.0C712.5,1355.7 717.2,1358.8 711.0,1374.0C704.8,1389.2 689.7,1414.8 676.0,1436.0C662.3,1457.2 645.2,1480.0 629.0,1501.0C612.8,1522.0 595.5,1542.5 579.0,1562.0C562.5,1581.5 546.2,1599.0 530.0,1618.0C513.8,1637.0 490.0,1666.3 482.0,1676.0" stroke="#131f86" stroke-width="16"/><path d="M510.0,1706.0C515.8,1701.3 530.7,1692.0 545.0,1678.0C559.3,1664.0 578.2,1639.3 596.0,1622.0C613.8,1604.7 638.0,1586.5 652.0,1574.0C666.0,1561.5 664.8,1564.7 680.0,1547.0C695.2,1529.3 728.0,1485.8 743.0,1468.0C758.0,1450.2 765.5,1444.7 770.0,1440.0" stroke="#131f86" stroke-width="16"/><path d="M792.0,1408.0C800.0,1413.3 822.0,1426.2 840.0,1440.0C858.0,1453.8 873.3,1469.3 900.0,1491.0C926.7,1512.7 977.5,1552.8 1000.0,1570.0C1022.5,1587.2 1029.2,1590.0 1035.0,1594.0" stroke="#131f86" stroke-width="32.0" stroke-linecap="butt" transform="translate(-12.8,12.8)"/><path d="M1035.0,1594.0C1039.5,1597.3 1046.2,1598.8 1062.0,1614.0C1077.8,1629.2 1109.2,1663.8 1130.0,1685.0C1150.8,1706.2 1177.5,1731.7 1187.0,1741.0" stroke="#131f86" stroke-width="21.0" stroke-linecap="butt" transform="translate(-8.4,8.4)"/></g>
<g fill="none" stroke-linejoin="round" filter="url(#b2)"><path d="M662.0,1540.0C663.7,1544.2 668.8,1556.7 672.0,1565.0C675.2,1573.3 678.4,1581.5 681.0,1590.0C683.6,1598.5 686.4,1611.7 687.5,1616.0" stroke="#131f86" stroke-width="13.5" stroke-linecap="butt" transform="translate(-5.4,5.4)"/><path d="M985.0,1558.0C983.7,1561.7 979.7,1572.7 977.0,1580.0C974.3,1587.3 971.5,1594.8 969.0,1602.0C966.5,1609.2 963.2,1619.5 962.0,1623.0" stroke="#131f86" stroke-width="13.5" stroke-linecap="butt" transform="translate(-5.4,5.4)"/></g>
<g fill="none" stroke-linejoin="round" filter="url(#b6)"><path d="M560,925 L705,925" stroke="#2a72de" stroke-width="13.0" stroke-linecap="round" transform="translate(3.5,-3.5)"/><path d="M590,922 L708,922" stroke="#2a72de" stroke-width="13" stroke-linecap="round"/><path d="M830,931 L975,936" stroke="#2a72de" stroke-width="12.0" stroke-linecap="round" transform="translate(3.2,-3.2)"/><path d="M828,929 L945,933" stroke="#2a72de" stroke-width="12" stroke-linecap="round"/><path d="M740.0,1410.0C735.3,1417.0 725.7,1432.8 712.0,1452.0C698.3,1471.2 674.0,1504.2 658.0,1525.0C642.0,1545.8 623.0,1568.3 616.0,1577.0" stroke="#2a72de" stroke-width="16.6" stroke-linecap="butt" transform="translate(4.5,-4.5)"/><path d="M616.0,1577.0Q574.5,1620.0 495.0,1691.0" stroke="#2a72de" stroke-width="10.9" stroke-linecap="butt" transform="translate(2.9,-2.9)"/><path d="M792.0,1408.0C800.0,1413.3 822.0,1426.2 840.0,1440.0C858.0,1453.8 873.3,1469.3 900.0,1491.0C926.7,1512.7 977.5,1552.8 1000.0,1570.0C1022.5,1587.2 1029.2,1590.0 1035.0,1594.0" stroke="#2a72de" stroke-width="16.6" stroke-linecap="butt" transform="translate(4.5,-4.5)"/><path d="M1035.0,1594.0C1039.5,1597.3 1046.2,1598.8 1062.0,1614.0C1077.8,1629.2 1109.2,1663.8 1130.0,1685.0C1150.8,1706.2 1177.5,1731.7 1187.0,1741.0" stroke="#2a72de" stroke-width="10.9" stroke-linecap="butt" transform="translate(2.9,-2.9)"/></g>
<g fill="none" stroke-linejoin="round" filter="url(#b2)"><path d="M662.0,1540.0C663.7,1544.2 668.8,1556.7 672.0,1565.0C675.2,1573.3 678.4,1581.5 681.0,1590.0C683.6,1598.5 686.4,1611.7 687.5,1616.0" stroke="#2a72de" stroke-width="7.0" stroke-linecap="butt" transform="translate(1.9,-1.9)"/><path d="M985.0,1558.0C983.7,1561.7 979.7,1572.7 977.0,1580.0C974.3,1587.3 971.5,1594.8 969.0,1602.0C966.5,1609.2 963.2,1619.5 962.0,1623.0" stroke="#2a72de" stroke-width="7.0" stroke-linecap="butt" transform="translate(1.9,-1.9)"/></g>
</g>
<ellipse cx="768.8" cy="737" rx="42" ry="14" fill="#2a2478"/><ellipse cx="768.8" cy="737" rx="40.5" ry="13" fill="none" stroke="#1848c4" stroke-width="3.5"/>
<path d="M727,735 A42,14 0 0 1 811,735 L811,722 L727,722Z" fill="#fff"/>
<ellipse cx="768.8" cy="736" rx="40.5" ry="14" fill="none" stroke="#1848c4" stroke-width="3.5"/>
<g fill="none" stroke="#fff" stroke-linecap="butt"><path d="M687.0,1040.0C680.7,1046.3 661.2,1063.2 649.0,1078.0C636.8,1092.8 624.1,1109.8 613.5,1129.0C602.9,1148.2 593.6,1171.8 585.5,1193.0C577.4,1214.2 570.0,1238.2 565.0,1256.0C560.0,1273.8 558.4,1280.0 555.8,1300.0C553.2,1320.0 550.1,1350.5 549.5,1376.0C548.9,1401.5 551.0,1432.1 552.0,1452.8C553.0,1473.5 554.1,1483.6 555.8,1500.0C557.5,1516.4 558.8,1534.0 562.0,1551.0C565.2,1568.0 569.9,1582.9 575.0,1602.0C580.1,1621.1 586.5,1646.4 592.8,1665.5C599.1,1684.6 608.1,1704.0 613.0,1716.4C617.9,1728.8 620.5,1736.1 622.0,1740.0" stroke-width="22.5"/><path d="M1075.0,1545.0C1074.7,1549.3 1074.6,1558.2 1073.0,1571.0C1071.4,1583.8 1069.3,1604.8 1065.5,1621.8C1061.7,1638.8 1055.5,1655.8 1050.0,1672.8C1044.5,1689.8 1038.1,1707.8 1032.4,1723.7C1026.7,1739.6 1018.7,1760.6 1016.0,1768.0" stroke-width="25.5"/></g>
<defs><g id="gL3" stroke-linejoin="round"><path d="M763.7,950.8C755.2,961.0 725.8,997.1 713.0,1012.0C700.2,1026.9 697.7,1029.0 687.0,1040.0C676.3,1051.0 661.2,1063.2 649.0,1078.0C636.8,1092.8 624.1,1109.8 613.5,1129.0C602.9,1148.2 593.6,1171.8 585.5,1193.0C577.4,1214.2 570.0,1238.2 565.0,1256.0C560.0,1273.8 558.4,1280.0 555.8,1300.0C553.2,1320.0 550.1,1350.5 549.5,1376.0C548.9,1401.5 551.0,1432.1 552.0,1452.8C553.0,1473.5 554.1,1483.6 555.8,1500.0C557.5,1516.4 558.8,1534.0 562.0,1551.0C565.2,1568.0 569.9,1582.9 575.0,1602.0C580.1,1621.1 586.5,1646.4 592.8,1665.5C599.1,1684.6 608.1,1704.0 613.0,1716.4C617.9,1728.8 620.5,1736.1 622.0,1740.0" fill="none" stroke="currentColor" stroke-width="15.5" stroke-linecap="butt"/><circle cx="763.7" cy="950.8" r="7.2" fill="currentColor"/><path d="M921.5,949.0C922.6,955.0 925.2,973.8 928.0,985.0C930.8,996.2 935.0,1006.0 938.0,1016.0C941.0,1026.0 943.5,1035.5 946.0,1045.0C948.5,1054.5 950.2,1063.5 953.2,1073.0C956.2,1082.5 960.0,1092.5 964.0,1102.0C968.0,1111.5 972.8,1120.7 977.0,1130.0C981.2,1139.3 984.9,1148.5 989.0,1158.0C993.1,1167.5 997.4,1177.5 1001.6,1187.0C1005.8,1196.5 1009.8,1205.5 1014.0,1215.0C1018.2,1224.5 1022.5,1234.3 1027.0,1244.0C1031.5,1253.7 1036.5,1263.5 1041.0,1273.0C1045.5,1282.5 1049.8,1289.8 1054.0,1301.0C1058.2,1312.2 1062.5,1323.2 1066.5,1340.0C1070.5,1356.8 1075.8,1383.2 1078.0,1402.0C1080.2,1420.8 1079.5,1435.8 1079.5,1452.8C1079.5,1469.8 1078.8,1488.3 1078.0,1503.7C1077.2,1519.1 1075.8,1533.8 1075.0,1545.0C1074.2,1556.2 1074.6,1558.2 1073.0,1571.0C1071.4,1583.8 1069.3,1604.8 1065.5,1621.8C1061.7,1638.8 1055.5,1655.8 1050.0,1672.8C1044.5,1689.8 1038.1,1707.8 1032.4,1723.7C1026.7,1739.6 1018.7,1760.6 1016.0,1768.0" fill="none" stroke="currentColor" stroke-width="18.5" stroke-linecap="butt"/></g><mask id="mL3" maskUnits="userSpaceOnUse" x="0" y="0" width="1571" height="2106"><use href="#gL3" color="#fff"/></mask></defs>
<use href="#gL3" color="#0b22b4"/>
<g mask="url(#mL3)">
<g fill="none" stroke-linejoin="round" filter="url(#b2)"><path d="M763.7,950.8C755.2,961.0 725.8,997.1 713.0,1012.0C700.2,1026.9 697.7,1029.0 687.0,1040.0C676.3,1051.0 661.2,1063.2 649.0,1078.0C636.8,1092.8 624.1,1109.8 613.5,1129.0C602.9,1148.2 593.6,1171.8 585.5,1193.0C577.4,1214.2 570.0,1238.2 565.0,1256.0C560.0,1273.8 558.4,1280.0 555.8,1300.0C553.2,1320.0 550.1,1350.5 549.5,1376.0C548.9,1401.5 551.0,1432.1 552.0,1452.8C553.0,1473.5 554.1,1483.6 555.8,1500.0C557.5,1516.4 558.8,1534.0 562.0,1551.0C565.2,1568.0 569.9,1582.9 575.0,1602.0C580.1,1621.1 586.5,1646.4 592.8,1665.5C599.1,1684.6 608.1,1704.0 613.0,1716.4C617.9,1728.8 620.5,1736.1 622.0,1740.0" stroke="#131f86" stroke-width="7.8" stroke-linecap="butt" transform="translate(-3.1,3.1)"/><path d="M921.5,949.0C922.6,955.0 925.2,973.8 928.0,985.0C930.8,996.2 935.0,1006.0 938.0,1016.0C941.0,1026.0 943.5,1035.5 946.0,1045.0C948.5,1054.5 950.2,1063.5 953.2,1073.0C956.2,1082.5 960.0,1092.5 964.0,1102.0C968.0,1111.5 972.8,1120.7 977.0,1130.0C981.2,1139.3 984.9,1148.5 989.0,1158.0C993.1,1167.5 997.4,1177.5 1001.6,1187.0C1005.8,1196.5 1009.8,1205.5 1014.0,1215.0C1018.2,1224.5 1022.5,1234.3 1027.0,1244.0C1031.5,1253.7 1036.5,1263.5 1041.0,1273.0C1045.5,1282.5 1049.8,1289.8 1054.0,1301.0C1058.2,1312.2 1062.5,1323.2 1066.5,1340.0C1070.5,1356.8 1075.8,1383.2 1078.0,1402.0C1080.2,1420.8 1079.5,1435.8 1079.5,1452.8C1079.5,1469.8 1078.8,1488.3 1078.0,1503.7C1077.2,1519.1 1075.8,1533.8 1075.0,1545.0C1074.2,1556.2 1074.6,1558.2 1073.0,1571.0C1071.4,1583.8 1069.3,1604.8 1065.5,1621.8C1061.7,1638.8 1055.5,1655.8 1050.0,1672.8C1044.5,1689.8 1038.1,1707.8 1032.4,1723.7C1026.7,1739.6 1018.7,1760.6 1016.0,1768.0" stroke="#131f86" stroke-width="9.2" stroke-linecap="butt" transform="translate(-3.7,3.7)"/></g>
<g fill="none" stroke-linejoin="round" filter="url(#b2)"><path d="M763.7,950.8C755.2,961.0 725.8,997.1 713.0,1012.0C700.2,1026.9 697.7,1029.0 687.0,1040.0C676.3,1051.0 661.2,1063.2 649.0,1078.0C636.8,1092.8 624.1,1109.8 613.5,1129.0C602.9,1148.2 593.6,1171.8 585.5,1193.0C577.4,1214.2 570.0,1238.2 565.0,1256.0C560.0,1273.8 558.4,1280.0 555.8,1300.0C553.2,1320.0 550.1,1350.5 549.5,1376.0C548.9,1401.5 551.0,1432.1 552.0,1452.8C553.0,1473.5 554.1,1483.6 555.8,1500.0C557.5,1516.4 558.8,1534.0 562.0,1551.0C565.2,1568.0 569.9,1582.9 575.0,1602.0C580.1,1621.1 586.5,1646.4 592.8,1665.5C599.1,1684.6 608.1,1704.0 613.0,1716.4C617.9,1728.8 620.5,1736.1 622.0,1740.0" stroke="#2a72de" stroke-width="4.0" stroke-linecap="butt" transform="translate(1.1,-1.1)"/><path d="M921.5,949.0C922.6,955.0 925.2,973.8 928.0,985.0C930.8,996.2 935.0,1006.0 938.0,1016.0C941.0,1026.0 943.5,1035.5 946.0,1045.0C948.5,1054.5 950.2,1063.5 953.2,1073.0C956.2,1082.5 960.0,1092.5 964.0,1102.0C968.0,1111.5 972.8,1120.7 977.0,1130.0C981.2,1139.3 984.9,1148.5 989.0,1158.0C993.1,1167.5 997.4,1177.5 1001.6,1187.0C1005.8,1196.5 1009.8,1205.5 1014.0,1215.0C1018.2,1224.5 1022.5,1234.3 1027.0,1244.0C1031.5,1253.7 1036.5,1263.5 1041.0,1273.0C1045.5,1282.5 1049.8,1289.8 1054.0,1301.0C1058.2,1312.2 1062.5,1323.2 1066.5,1340.0C1070.5,1356.8 1075.8,1383.2 1078.0,1402.0C1080.2,1420.8 1079.5,1435.8 1079.5,1452.8C1079.5,1469.8 1078.8,1488.3 1078.0,1503.7C1077.2,1519.1 1075.8,1533.8 1075.0,1545.0C1074.2,1556.2 1074.6,1558.2 1073.0,1571.0C1071.4,1583.8 1069.3,1604.8 1065.5,1621.8C1061.7,1638.8 1055.5,1655.8 1050.0,1672.8C1044.5,1689.8 1038.1,1707.8 1032.4,1723.7C1026.7,1739.6 1018.7,1760.6 1016.0,1768.0" stroke="#2a72de" stroke-width="4.8" stroke-linecap="butt" transform="translate(1.3,-1.3)"/></g>
</g>
<path d="M760,942 Q772,946 771.5,962" fill="none" stroke="#2a62d8" stroke-width="2.5" stroke-linecap="round" filter="url(#b1)"/>
<rect x="140" y="1202" width="204" height="43" rx="4" fill="#007093"/>
<path d="M394.3,275.0L557.0,280.3" stroke="#000" stroke-width="5.6" fill="none"/><path d="M580.0,281.0L544.6,291.4L555.0,280.2L545.4,268.4Z" fill="#000"/>
<path d="M357.0,396.0L568.8,453.3" stroke="#000" stroke-width="5.6" fill="none"/><path d="M591.0,459.3L554.2,461.3L566.9,452.8L560.2,439.1Z" fill="#000"/>
<path d="M467.5,489.0L715.1,511.6" stroke="#000" stroke-width="5.6" fill="none"/><path d="M738.0,513.7L702.1,522.0L713.1,511.4L704.2,499.1Z" fill="#000"/>
<path d="M465.3,560.5L720.5,593.5" stroke="#000" stroke-width="5.6" fill="none"/><path d="M743.3,596.4L707.1,603.3L718.5,593.2L710.1,580.5Z" fill="#000"/>
<path d="M390.0,631.5L623.0,639.2" stroke="#000" stroke-width="5.6" fill="none"/><path d="M646.0,640.0L610.6,650.3L621.0,639.2L611.4,627.3Z" fill="#000"/>
<path d="M438.0,729.0L697.8,840.0" stroke="#000" stroke-width="5.6" fill="none"/><path d="M719.0,849.0L682.3,845.8L696.0,839.2L691.3,824.7Z" fill="#000"/>
<path d="M393.7,836.0L624.9,918.8" stroke="#000" stroke-width="5.6" fill="none"/><path d="M646.6,926.6L609.8,925.6L623.1,918.2L617.5,904.0Z" fill="#000"/>
<path d="M350.7,940.0L432.8,940.8" stroke="#000" stroke-width="5.6" fill="none"/><path d="M455.8,941.0L420.7,952.2L430.8,940.8L420.9,929.2Z" fill="#000"/>
<path d="M391.0,1080.0L499.1,1087.4" stroke="#000" stroke-width="5.6" fill="none"/><path d="M522.0,1089.0L486.3,1098.1L497.1,1087.3L487.9,1075.1Z" fill="#000"/>
<path d="M344.0,1221.4L610.0,1183.6" stroke="#000" stroke-width="5.6" fill="none"/><path d="M632.8,1180.4L599.8,1196.7L608.0,1183.9L596.5,1173.9Z" fill="#000"/>
<path d="M344.0,1230.0L612.4,1282.1" stroke="#000" stroke-width="5.6" fill="none"/><path d="M635.0,1286.5L598.4,1291.1L610.5,1281.7L602.8,1268.5Z" fill="#000"/>
<path d="M431.0,1334.0L642.0,1335.4" stroke="#000" stroke-width="5.6" fill="none"/><path d="M665.0,1335.5L629.9,1346.8L640.0,1335.3L630.1,1323.8Z" fill="#000"/>
<path d="M325.0,1432.0L474.2,1412.9" stroke="#000" stroke-width="5.6" fill="none"/><path d="M497.0,1410.0L463.7,1425.8L472.2,1413.2L460.8,1403.0Z" fill="#000"/>
<path d="M454.6,1537.0L535.5,1519.0" stroke="#000" stroke-width="5.6" fill="none"/><path d="M558.0,1514.0L526.3,1532.8L533.6,1519.4L521.3,1510.4Z" fill="#000"/>
<path d="M467.0,1714.0L493.2,1689.7" stroke="#000" stroke-width="5.6" fill="none"/><path d="M510.0,1674.0L492.2,1706.3L491.7,1691.0L476.5,1689.4Z" fill="#000"/>
<path d="M773.0,404.0L772.6,389.0" stroke="#000" stroke-width="5.6" fill="none"/><path d="M772.0,366.0L784.4,400.7L772.7,391.0L761.4,401.3Z" fill="#000"/>
<path d="M768.8,712.0L769.0,726.5" stroke="#000" stroke-width="5.6" fill="none"/><path d="M769.3,749.5L757.3,714.7L769.0,724.5L780.3,714.3Z" fill="#000"/>
<path d="M739.7,1642.3L707.4,1618.6" stroke="#000" stroke-width="5.6" fill="none"/><path d="M688.8,1605.0L723.8,1616.4L709.0,1619.8L710.2,1635.0Z" fill="#000"/>
<path d="M890.0,1642.0L945.4,1610.0" stroke="#000" stroke-width="5.6" fill="none"/><path d="M965.3,1598.5L940.7,1626.0L943.7,1611.0L929.2,1606.0Z" fill="#000"/>
<path d="M1159.0,248.8L1001.2,266.1" stroke="#000" stroke-width="5.6" fill="none"/><path d="M978.3,268.6L1011.8,253.4L1003.2,265.9L1014.3,276.2Z" fill="#000"/>
<path d="M1092.0,411.0L915.9,450.8" stroke="#000" stroke-width="5.6" fill="none"/><path d="M893.5,455.9L925.1,437.0L917.9,450.4L930.2,459.4Z" fill="#000"/>
<path d="M1076.5,528.3L939.9,517.3" stroke="#000" stroke-width="5.6" fill="none"/><path d="M917.0,515.4L952.8,506.8L941.9,517.4L951.0,529.7Z" fill="#000"/>
<path d="M1076.5,535.0L944.0,716.9" stroke="#000" stroke-width="5.6" fill="none"/><path d="M930.5,735.5L941.8,700.4L945.2,715.3L960.4,714.0Z" fill="#000"/>
<path d="M1106.0,648.0L902.8,676.8" stroke="#000" stroke-width="5.6" fill="none"/><path d="M880.0,680.0L913.0,663.7L904.8,676.5L916.3,686.5Z" fill="#000"/>
<path d="M1138.7,745.8L885.6,880.2" stroke="#000" stroke-width="5.6" fill="none"/><path d="M865.3,891.0L890.8,864.4L887.4,879.3L901.6,884.7Z" fill="#000"/>
<path d="M1164.7,850.5L976.2,879.9" stroke="#000" stroke-width="5.6" fill="none"/><path d="M953.5,883.4L986.3,866.6L978.2,879.6L989.9,889.4Z" fill="#000"/>
<path d="M1187.0,945.0L944.0,935.4" stroke="#000" stroke-width="5.6" fill="none"/><path d="M921.0,934.5L956.4,924.4L946.0,935.5L955.5,947.4Z" fill="#000"/>
<path d="M1179.0,1040.0L1086.5,1024.7" stroke="#000" stroke-width="5.6" fill="none"/><path d="M1063.8,1021.0L1100.2,1015.3L1088.5,1025.1L1096.5,1038.0Z" fill="#000"/>
<path d="M1177.0,1165.0L1072.7,1129.0" stroke="#000" stroke-width="5.6" fill="none"/><path d="M1051.0,1121.5L1087.8,1122.1L1074.6,1129.7L1080.3,1143.8Z" fill="#000"/>
<path d="M1209.7,1283.4L1106.7,1281.8" stroke="#000" stroke-width="5.6" fill="none"/><path d="M1083.7,1281.5L1118.9,1270.5L1108.7,1281.9L1118.5,1293.5Z" fill="#000"/>
<path d="M1148.6,1405.0L921.8,1391.0" stroke="#000" stroke-width="5.6" fill="none"/><path d="M898.8,1389.6L934.4,1380.3L923.8,1391.1L933.0,1403.2Z" fill="#000"/>
<path d="M1120.0,1526.0L1095.9,1539.4" stroke="#000" stroke-width="5.6" fill="none"/><path d="M1075.8,1550.6L1100.8,1523.5L1097.6,1538.4L1112.0,1543.6Z" fill="#000"/>
<path d="M1194.4,1757.9L1189.4,1746.8" stroke="#000" stroke-width="5.6" fill="none"/><path d="M1180.0,1725.8L1204.8,1753.0L1190.2,1748.6L1183.8,1762.4Z" fill="#000"/>
<g font-family="'Liberation Sans', sans-serif" font-size="30.8" fill="#000" stroke="#000" stroke-width="0.8"><text x="185.0" y="271.3" textLength="205.0" lengthAdjust="spacingAndGlyphs">right superior</text><text x="171.0" y="310.3" textLength="231.6" lengthAdjust="spacingAndGlyphs">intercostal vein</text><text x="148.6" y="384.3" textLength="304.0" lengthAdjust="spacingAndGlyphs">posterior intercostal</text><text x="260.0" y="424.0" textLength="80.0" lengthAdjust="spacingAndGlyphs">veins</text><text x="140.7" y="493.3" textLength="320.3" lengthAdjust="spacingAndGlyphs">body of Th7 vertebra</text><text x="139.7" y="567.3" textLength="320.8" lengthAdjust="spacingAndGlyphs">body of Th8 vertebra</text><text x="202.7" y="642.3" textLength="182.1" lengthAdjust="spacingAndGlyphs">azygos vein</text><text x="166.0" y="737.8" textLength="268.4" lengthAdjust="spacingAndGlyphs">right adrenal vein</text><text x="162.0" y="844.7" textLength="228.5" lengthAdjust="spacingAndGlyphs">right renal vein</text><text x="167.7" y="947.3" textLength="178.9" lengthAdjust="spacingAndGlyphs">right kidney</text><text x="141.7" y="1067.3" textLength="253.3" lengthAdjust="spacingAndGlyphs">right periureteric</text><text x="157.0" y="1106.3" textLength="222.0" lengthAdjust="spacingAndGlyphs">venous plexus</text><text x="30.0" y="1340.3" textLength="398.0" lengthAdjust="spacingAndGlyphs">right ascending lubar vein</text><text x="154.6" y="1439.3" textLength="169.8" lengthAdjust="spacingAndGlyphs">right ureter</text><text x="251.0" y="1543.9" textLength="200.4" lengthAdjust="spacingAndGlyphs">right gonadal</text><text x="320.3" y="1582.8" textLength="61.1" lengthAdjust="spacingAndGlyphs">vein</text><text x="284.3" y="1737.3" textLength="200.5" lengthAdjust="spacingAndGlyphs">right external</text><text x="318.4" y="1776.9" textLength="133.0" lengthAdjust="spacingAndGlyphs">iliac vein</text><text x="742.2" y="431.3" textLength="67.3" lengthAdjust="spacingAndGlyphs">SVC</text><text x="743.3" y="708.8" textLength="53.5" lengthAdjust="spacingAndGlyphs">IVC</text><text x="734.6" y="1669.1" textLength="185.9" lengthAdjust="spacingAndGlyphs">internal iliac</text><text x="787.0" y="1708.3" textLength="80.0" lengthAdjust="spacingAndGlyphs">veins</text><text x="510.5" y="2039.3" textLength="581.4" lengthAdjust="spacingAndGlyphs">Copyright © 2015 Georgi Valchev MD</text><text x="1161.6" y="248.3" textLength="183.4" lengthAdjust="spacingAndGlyphs">left superior</text><text x="1136.0" y="288.3" textLength="232.7" lengthAdjust="spacingAndGlyphs">intercostal vein</text><text x="1149.0" y="384.7" textLength="155.0" lengthAdjust="spacingAndGlyphs">accessory</text><text x="1097.9" y="424.8" textLength="257.4" lengthAdjust="spacingAndGlyphs">hemiazygos vein</text><text x="1082.0" y="534.8" textLength="305.8" lengthAdjust="spacingAndGlyphs">posterior intercostal</text><text x="1194.9" y="573.7" textLength="79.4" lengthAdjust="spacingAndGlyphs">veins</text><text x="1110.0" y="656.0" textLength="256.8" lengthAdjust="spacingAndGlyphs">hemiazygos vein</text><text x="1144.5" y="737.3" textLength="273.8" lengthAdjust="spacingAndGlyphs">ascending lumbar</text><text x="1142.6" y="776.3" textLength="277.6" lengthAdjust="spacingAndGlyphs">communicant vein</text><text x="1169.3" y="862.3" textLength="247.1" lengthAdjust="spacingAndGlyphs">left adrenal vein</text><text x="1192.2" y="956.3" textLength="207.0" lengthAdjust="spacingAndGlyphs">left renal vein</text><text x="1186.8" y="1048.0" textLength="156.6" lengthAdjust="spacingAndGlyphs">left kidney</text><text x="1175.3" y="1156.1" textLength="231.9" lengthAdjust="spacingAndGlyphs">left periureteric</text><text x="1185.7" y="1195.1" textLength="210.3" lengthAdjust="spacingAndGlyphs">venousplexus</text><text x="1212.8" y="1292.3" textLength="147.8" lengthAdjust="spacingAndGlyphs">left ureter</text><text x="1151.3" y="1412.8" textLength="406.0" lengthAdjust="spacingAndGlyphs">left ascending lumbar vein</text><text x="1124.2" y="1531.6" textLength="253.0" lengthAdjust="spacingAndGlyphs">left gonadal vein</text><text x="1177.6" y="1777.5" textLength="180.8" lengthAdjust="spacingAndGlyphs">left external</text><text x="1201.5" y="1816.7" textLength="132.9" lengthAdjust="spacingAndGlyphs">iliac vein</text></g>
</svg></body></html>
